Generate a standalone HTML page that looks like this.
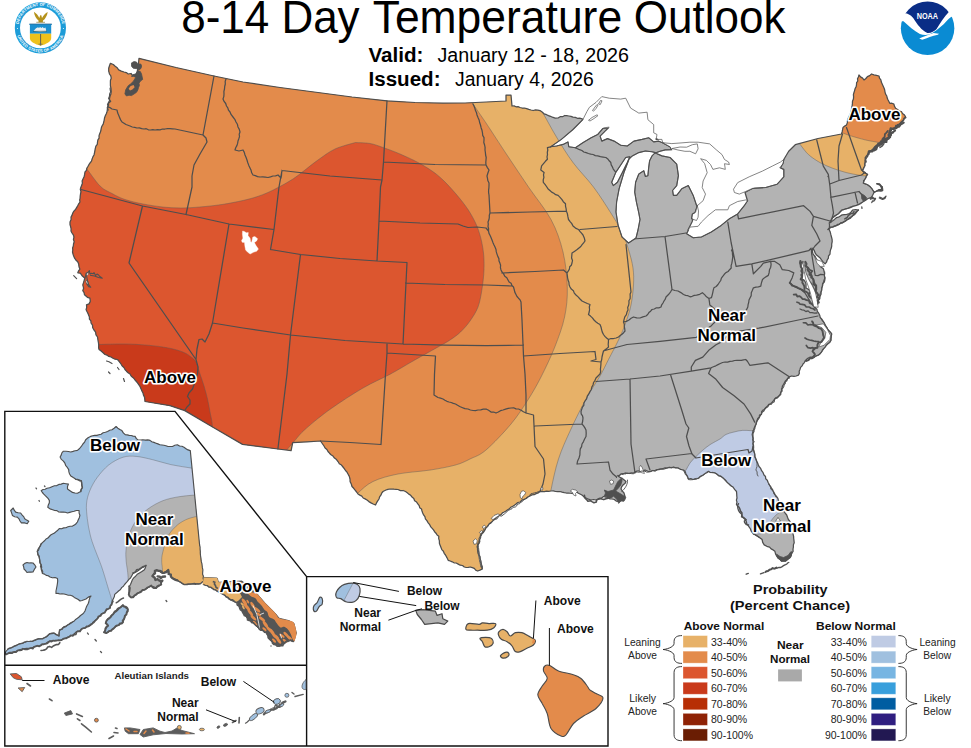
<!DOCTYPE html>
<html><head><meta charset="utf-8"><title>8-14 Day Temperature Outlook</title>
<style>
html,body{margin:0;padding:0;background:#fff;}
body{width:971px;height:748px;overflow:hidden;font-family:"Liberation Sans",sans-serif;}
svg{display:block}
text{font-family:"Liberation Sans",sans-serif;}
.lab{font-weight:bold;font-size:17px;fill:#000;stroke:#fff;stroke-width:3.2px;paint-order:stroke fill;stroke-linejoin:round;text-anchor:middle}
.slab{font-weight:bold;font-size:12px;fill:#111;}
.leg{font-size:11px;fill:#222;}
.legb{font-weight:bold;font-size:12px;fill:#111;}
</style></head><body>
<svg width="971" height="748" viewBox="0 0 971 748">
<rect width="971" height="748" fill="#fff"/>
<defs>
<clipPath id="usclip"><path d="M110.4 63.3 L113.3 64.5 L115.2 66.2 L117.2 67.8 L118.7 69.9 L121.3 71.1 L124.0 72.0 L126.3 72.6 L128.2 74.0 L131.0 73.5 L133.0 76.0 L136.0 74.5 L136.8 72.5 L137.5 70.5 L137.9 68.2 L138.5 66.0 L138.6 62.5 L139.0 58.3 L176.0 67.5 L214.0 76.0 L243.0 82.0 L280.0 87.5 L318.0 92.5 L352.0 97.0 L387.0 100.8 L415.0 102.5 L443.0 103.2 L465.0 103.0 L486.0 102.0 L506.0 101.0 L506.0 95.0 L511.0 95.0 L512.0 106.0 L514.1 105.9 L516.0 106.8 L518.1 106.7 L520.0 107.5 L522.0 108.0 L524.4 108.0 L526.6 108.6 L528.8 109.4 L531.0 110.0 L533.2 110.5 L535.5 109.9 L537.8 110.1 L540.0 110.6 L542.1 112.1 L544.1 113.8 L546.6 114.7 L548.5 115.6 L550.5 116.3 L552.4 117.2 L555.2 118.1 L558.1 118.0 L560.1 116.7 L562.6 116.7 L564.7 115.5 L566.8 115.7 L568.9 116.0 L571.0 116.4 L573.0 117.2 L575.3 117.4 L577.4 118.3 L579.8 118.1 L582.0 118.8 L600.0 128.0 L640.0 128.0 L662.7 142.7 L670.1 146.8 L671.8 149.3 L690.0 165.0 L700.0 190.0 L697.3 205.7 L692.0 222.0 L688.0 230.0 L700.0 232.0 L735.0 210.0 L747.5 200.7 L745.0 192.5 L760.0 184.0 L779.0 172.5 L783.8 159.5 L788.7 151.3 L795.3 144.7 L818.0 138.5 L841.5 134.0 L842.1 131.9 L842.6 129.7 L843.0 127.5 L844.7 126.1 L846.5 125.0 L847.3 122.9 L847.5 120.6 L848.2 118.4 L849.1 116.3 L850.3 114.3 L850.7 112.1 L851.5 110.0 L851.6 107.8 L852.2 105.6 L852.4 103.4 L852.5 101.2 L853.4 99.1 L853.6 96.9 L853.4 94.6 L854.0 92.5 L854.6 90.6 L855.1 88.6 L856.1 86.8 L856.5 84.8 L856.6 82.7 L857.8 81.0 L857.5 78.8 L858.4 76.9 L859.0 75.0 L860.5 76.9 L862.6 78.1 L864.0 80.0 L865.9 78.5 L867.4 76.6 L869.7 75.6 L871.5 74.0 L873.9 74.9 L876.5 75.4 L879.0 76.0 L879.5 78.2 L880.9 79.9 L881.3 82.1 L882.2 84.0 L883.1 86.0 L884.0 88.0 L884.7 90.0 L885.0 92.1 L885.6 94.2 L886.8 96.0 L887.2 98.1 L888.1 100.0 L889.8 103.3 L891.9 103.2 L893.9 104.1 L894.5 106.3 L895.6 108.3 L897.5 109.5 L899.2 111.0 L901.4 111.6 L902.5 113.5 L904.3 114.8 L905.5 116.6 L904.0 119.2 L902.2 121.6 L900.0 123.5 L898.0 125.7 L895.8 127.4 L893.1 128.2 L891.5 129.5 L889.8 130.7 L890.9 132.6 L891.4 134.8 L890.0 136.8 L888.4 138.5 L886.4 139.8 L883.9 140.4 L881.5 141.5 L880.6 143.4 L879.0 144.8 L877.0 146.3 L874.8 147.3 L873.2 149.0 L871.5 150.6 L869.6 152.0 L868.2 153.9 L867.8 156.1 L866.5 158.0 L865.2 160.0 L865.1 162.9 L864.8 165.8 L863.5 168.2 L862.3 170.6 L863.8 172.2 L865.6 173.4 L867.6 174.4 L866.2 176.1 L865.6 178.4 L864.3 180.2 L863.3 183.1 L865.7 184.0 L868.1 185.0 L870.2 186.8 L872.0 188.9 L873.9 191.8 L876.4 191.5 L878.7 190.3 L880.7 190.9 L882.8 190.5 L882.1 186.9 L879.7 184.1 L876.8 183.6 L880.0 185.2 L881.3 187.5 L881.6 189.5 L879.0 189.5 L876.0 191.5 L873.9 192.7 L872.5 195.5 L871.0 197.5 L868.1 198.5 L865.2 200.4 L862.3 202.3 L860.6 203.6 L858.5 204.3 L856.7 205.3 L854.7 205.8 L852.7 206.2 L850.9 207.4 L848.9 208.1 L846.6 208.7 L844.3 209.3 L842.1 210.0 L840.4 211.8 L838.7 213.7 L836.4 214.9 L834.5 216.4 L832.5 217.7 L830.5 221.0 L830.6 222.6 L832.4 220.9 L834.5 219.4 L836.4 217.7 L838.5 217.2 L840.3 216.0 L842.1 214.9 L844.4 214.6 L846.7 214.4 L848.9 213.9 L850.9 212.1 L852.7 210.0 L855.6 209.5 L858.5 210.0 L856.5 211.4 L854.9 213.2 L853.2 214.8 L851.8 216.8 L849.7 217.7 L848.0 219.3 L846.1 220.5 L844.1 221.6 L842.4 222.9 L840.2 223.4 L838.5 224.9 L836.4 225.4 L834.6 226.5 L832.6 227.0 L830.6 227.4 L828.5 229.0 L829.0 229.5 L830.2 231.9 L830.8 234.4 L831.5 237.0 L832.1 239.3 L832.2 241.7 L831.7 244.0 L831.7 246.1 L831.3 248.1 L830.5 250.0 L830.1 252.1 L830.0 254.2 L828.5 256.0 L828.4 258.1 L827.2 260.0 L826.5 262.2 L825.1 263.9 L823.3 262.1 L821.7 260.1 L820.2 258.1 L818.4 256.6 L816.6 255.1 L815.2 253.2 L814.3 250.5 L812.7 248.2 L812.5 252.0 L813.1 254.2 L814.7 255.9 L815.8 257.8 L816.9 259.8 L818.4 261.8 L819.5 264.0 L820.2 266.4 L823.4 268.8 L824.0 271.0 L824.5 273.3 L824.3 275.7 L825.1 277.9 L824.8 280.0 L824.3 282.0 L822.6 283.7 L822.4 285.8 L821.8 287.8 L821.8 289.9 L821.0 291.9 L821.1 294.0 L820.2 296.0 L819.5 298.0 L818.4 299.9 L817.9 302.0 L817.7 304.2 L816.0 303.4 L816.2 300.5 L816.0 297.7 L815.3 295.8 L814.9 293.8 L814.2 291.8 L814.4 289.7 L813.6 287.8 L812.4 285.7 L811.4 283.5 L809.7 281.7 L808.6 279.5 L807.2 277.5 L806.7 275.0 L805.3 273.0 L805.4 270.8 L804.9 268.8 L804.4 266.7 L803.7 264.7 L802.0 261.4 L801.2 263.6 L801.0 266.0 L801.4 268.1 L802.6 269.9 L803.0 272.0 L802.6 274.3 L802.5 276.7 L802.0 279.0 L804.0 280.1 L805.3 282.0 L806.0 283.9 L806.0 286.0 L806.0 288.0 L808.3 289.3 L810.3 291.0 L809.4 293.4 L809.0 296.0 L810.5 297.9 L812.7 299.0 L812.9 301.5 L813.0 304.0 L813.9 306.0 L815.2 307.8 L816.9 309.2 L817.3 311.4 L818.7 313.2 L819.7 315.2 L820.2 317.4 L821.8 319.2 L823.1 321.2 L824.4 323.2 L825.3 325.4 L826.7 327.3 L827.6 329.2 L828.9 330.8 L830.5 332.2 L831.7 333.9 L831.3 336.1 L830.8 338.3 L830.9 340.5 L829.8 342.5 L827.9 343.7 L826.2 345.2 L825.1 347.1 L823.6 348.6 L822.4 350.2 L821.4 352.1 L820.2 353.7 L818.3 355.2 L815.9 355.9 L814.1 357.5 L811.9 358.6 L808.3 357.9 L806.7 359.2 L805.3 360.6 L804.4 362.6 L803.0 364.0 L802.1 365.9 L800.6 367.4 L800.0 369.4 L799.2 371.3 L799.3 373.4 L798.4 375.2 L796.2 376.0 L793.9 376.4 L791.5 376.0 L789.3 376.8 L787.6 378.5 L786.8 380.8 L784.7 382.2 L783.6 384.3 L782.4 386.1 L782.1 388.2 L781.8 390.2 L780.9 392.1 L780.3 394.1 L778.9 396.0 L777.4 397.8 L775.0 398.7 L773.5 400.6 L772.0 402.4 L770.6 403.8 L768.8 404.9 L767.8 406.7 L766.1 407.8 L764.7 409.2 L763.7 411.1 L762.1 412.3 L761.1 414.5 L759.8 416.5 L758.7 418.6 L757.2 420.5 L756.3 422.5 L755.8 424.7 L754.8 426.7 L753.9 428.7 L754.0 431.3 L752.9 433.8 L753.0 436.5 L753.2 439.0 L753.0 441.5 L753.0 444.0 L753.2 446.5 L753.2 449.1 L754.0 451.5 L754.8 454.0 L754.9 456.6 L756.0 459.0 L756.7 460.9 L757.5 462.8 L758.2 464.6 L759.0 466.5 L760.7 468.4 L761.6 470.7 L763.1 472.7 L764.0 475.0 L765.5 476.5 L765.7 478.8 L767.3 480.2 L768.0 482.2 L769.0 484.0 L769.9 485.9 L771.1 487.6 L772.4 489.3 L773.3 491.2 L774.3 493.0 L775.2 494.9 L776.5 496.5 L777.9 498.3 L778.4 500.6 L779.7 502.5 L780.7 504.5 L781.2 506.8 L782.5 508.7 L783.5 510.7 L785.0 512.9 L786.7 515.0 L787.5 517.3 L788.4 519.5 L789.9 521.4 L790.6 523.5 L791.1 525.7 L791.8 527.8 L792.4 530.0 L793.1 532.1 L793.1 534.3 L793.6 536.4 L793.7 538.5 L794.0 540.7 L794.2 542.8 L793.4 544.9 L793.4 547.0 L793.0 549.1 L793.1 551.3 L791.6 553.3 L791.2 555.8 L789.9 557.8 L787.7 559.3 L785.6 561.0 L783.5 560.5 L781.3 561.0 L780.2 559.3 L778.2 558.4 L777.1 556.7 L775.6 554.2 L774.9 551.3 L773.1 549.9 L771.1 548.9 L769.6 547.1 L766.8 546.3 L764.2 544.9 L762.7 542.4 L762.1 539.6 L760.1 537.9 L757.8 536.4 L755.8 535.0 L753.5 534.2 L752.8 532.3 L751.1 531.0 L750.5 529.0 L749.4 527.3 L748.2 525.7 L746.8 524.0 L746.4 521.7 L745.4 519.8 L743.9 518.2 L742.3 516.5 L741.7 514.2 L739.8 512.6 L738.6 510.7 L737.9 508.6 L737.6 506.3 L736.4 504.3 L737.0 502.2 L736.4 500.1 L737.0 498.0 L736.8 495.8 L736.7 493.7 L736.5 491.5 L734.6 489.4 L733.0 487.0 L730.8 485.8 L729.0 484.0 L726.9 482.1 L725.0 480.0 L723.2 478.1 L721.0 476.5 L718.7 475.8 L717.0 474.1 L715.0 473.0 L712.8 472.6 L710.5 472.5 L708.5 471.5 L706.8 472.8 L704.8 473.7 L703.0 475.0 L700.7 476.5 L698.5 478.0 L695.9 479.2 L693.0 479.5 L690.8 478.7 L688.5 479.0 L687.5 476.4 L686.0 474.0 L685.2 471.7 L683.5 470.0 L680.6 469.4 L678.0 468.0 L675.7 467.8 L673.5 467.0 L671.4 467.8 L669.1 467.4 L667.0 468.0 L665.0 468.6 L663.1 469.1 L661.0 469.0 L659.0 469.6 L656.9 469.6 L655.0 470.5 L652.8 470.5 L650.7 471.4 L648.5 471.5 L645.0 470.0 L643.1 471.1 L641.0 471.5 L639.1 470.8 L637.0 471.0 L635.2 471.9 L633.5 473.0 L631.3 472.8 L629.2 473.5 L627.0 473.0 L625.1 473.8 L623.0 473.5 L621.0 474.0 L618.5 476.5 L620.8 477.7 L623.0 479.0 L626.0 481.5 L624.9 483.6 L623.0 485.0 L621.6 486.8 L621.0 489.0 L622.4 491.1 L624.0 493.0 L625.0 496.5 L623.2 498.0 L622.0 500.0 L618.5 501.5 L616.2 501.1 L614.3 499.5 L612.0 499.0 L609.7 498.8 L607.9 497.4 L605.6 497.2 L603.5 496.5 L601.9 497.9 L600.0 499.0 L598.0 499.4 L596.0 500.0 L593.5 499.5 L591.0 500.0 L588.4 499.2 L586.0 498.0 L584.1 497.2 L582.7 495.6 L581.0 494.5 L578.4 493.2 L576.0 491.5 L574.2 492.9 L572.0 493.5 L568.5 493.0 L566.3 493.0 L564.2 492.7 L562.1 492.2 L560.0 491.5 L557.7 491.6 L555.5 491.5 L553.3 490.8 L551.0 491.0 L548.8 491.3 L546.6 491.2 L544.4 491.7 L542.2 491.6 L540.0 491.5 L538.2 492.9 L536.1 493.6 L534.2 494.7 L531.9 494.9 L530.0 496.0 L528.0 497.0 L526.2 498.5 L524.0 499.4 L521.8 500.1 L520.2 502.0 L517.8 502.5 L516.0 504.0 L514.4 505.2 L512.7 506.3 L510.8 507.2 L509.4 508.8 L507.7 509.8 L506.0 511.0 L504.2 512.0 L502.4 512.9 L501.1 514.6 L499.1 515.4 L497.5 516.6 L496.0 518.0 L494.2 519.4 L492.6 521.1 L490.9 522.6 L489.0 524.0 L487.7 526.4 L485.7 528.2 L484.7 530.4 L483.4 532.5 L481.4 534.1 L480.3 536.2 L480.0 538.4 L479.6 540.6 L479.1 542.7 L477.8 544.7 L477.6 546.9 L477.5 549.3 L478.0 551.7 L478.5 554.0 L479.3 556.0 L480.0 558.1 L480.3 560.3 L481.0 562.4 L481.3 564.6 L482.2 566.7 L482.3 569.0 L480.0 570.1 L477.6 571.0 L475.7 570.1 L474.3 568.4 L472.3 567.7 L470.3 567.0 L468.3 567.3 L466.3 567.5 L464.3 567.0 L462.5 565.5 L460.2 565.2 L458.2 564.1 L456.2 563.0 L454.0 562.8 L452.2 561.8 L450.2 561.0 L448.2 560.3 L446.9 557.6 L445.5 555.0 L444.2 553.3 L443.4 551.2 L441.8 549.6 L441.0 547.6 L440.2 545.6 L439.4 543.3 L439.4 540.9 L438.7 538.6 L438.8 536.2 L437.1 535.0 L436.0 533.2 L434.6 531.7 L433.5 529.9 L432.2 528.4 L430.8 526.9 L429.7 524.7 L428.2 522.8 L426.9 520.7 L425.4 518.8 L424.9 516.7 L423.6 514.9 L422.7 513.0 L422.0 511.0 L421.5 509.0 L419.7 507.7 L419.2 505.6 L418.0 504.0 L416.6 502.1 L414.6 500.8 L413.8 498.5 L412.0 497.0 L410.7 495.3 L408.8 494.1 L407.3 492.7 L405.5 491.5 L403.1 490.5 L400.4 490.6 L398.0 489.5 L396.0 489.3 L394.0 489.2 L392.0 489.0 L389.9 489.0 L387.9 489.3 L386.0 490.0 L383.0 491.5 L381.7 493.2 L380.9 495.2 L379.6 496.9 L379.0 499.0 L377.7 500.9 L376.5 502.9 L375.5 505.0 L373.2 504.0 L371.0 502.9 L368.9 501.6 L367.0 500.0 L365.1 498.9 L363.2 498.0 L361.8 496.1 L359.8 495.1 L358.0 494.0 L356.6 492.0 L355.1 490.2 L353.7 488.3 L352.0 486.5 L351.3 484.0 L350.1 481.6 L350.0 479.0 L349.3 476.4 L348.0 474.0 L347.0 472.1 L345.5 470.5 L344.3 468.7 L343.0 467.0 L341.5 465.0 L339.3 463.7 L338.0 461.5 L336.5 459.5 L334.5 458.0 L333.0 456.0 L331.0 454.8 L329.5 453.2 L328.0 451.5 L326.9 449.5 L325.1 448.0 L324.0 446.0 L320.5 441.0 L307.0 441.8 L292.7 442.7 L291.1 450.6 L277.9 449.0 L260.0 446.7 L242.5 444.4 L213.0 427.2 L184.8 410.6 L170.0 405.7 L145.0 401.5 L144.8 399.3 L144.5 397.1 L143.5 395.1 L143.0 393.0 L141.9 390.9 L141.0 388.7 L140.0 386.5 L138.9 384.8 L137.7 383.1 L136.4 381.5 L135.0 380.0 L133.5 377.9 L131.3 376.3 L130.0 374.0 L128.1 372.8 L126.5 371.2 L125.0 369.5 L123.9 367.5 L122.2 366.0 L121.0 364.0 L119.3 361.7 L117.5 359.5 L115.1 359.2 L113.0 358.3 L111.0 357.0 L108.9 356.4 L107.1 355.2 L105.0 354.5 L103.1 352.7 L101.1 351.0 L99.0 349.5 L98.6 347.4 L98.7 345.2 L98.5 343.0 L98.1 341.0 L97.8 339.0 L97.5 337.0 L96.0 334.9 L95.6 332.1 L94.0 330.0 L92.7 327.8 L92.5 325.1 L91.0 323.0 L90.9 320.9 L89.4 319.1 L89.4 317.0 L88.2 313.9 L87.1 311.8 L86.1 309.7 L86.7 307.3 L86.5 304.8 L89.0 303.9 L90.3 301.4 L89.9 298.1 L87.4 297.3 L84.5 294.8 L84.1 292.6 L82.8 290.7 L83.6 288.2 L82.8 284.9 L83.6 282.4 L84.2 280.3 L84.9 278.2 L82.4 276.1 L80.3 273.2 L77.8 272.8 L78.6 270.8 L79.9 269.1 L79.0 266.7 L78.7 264.1 L77.7 261.8 L75.8 260.0 L74.3 257.6 L73.3 255.0 L72.5 252.0 L72.8 250.0 L72.6 248.0 L73.3 246.0 L73.5 244.0 L74.2 241.7 L73.4 239.3 L74.0 237.0 L73.3 234.8 L72.0 233.0 L71.0 231.0 L71.1 228.8 L70.6 226.6 L70.0 224.5 L70.0 222.0 L71.1 219.6 L71.0 217.0 L72.1 215.1 L72.8 213.0 L73.9 211.1 L75.5 209.5 L76.6 207.6 L77.7 205.7 L78.7 203.8 L80.0 202.0 L79.7 200.0 L80.1 198.0 L80.2 196.0 L80.5 194.0 L81.0 191.7 L80.3 189.3 L81.0 187.0 L81.8 185.1 L82.4 183.1 L82.1 180.9 L83.0 179.0 L84.1 176.8 L84.6 174.4 L85.0 172.0 L86.4 170.4 L86.8 168.3 L87.9 166.5 L88.9 164.7 L90.0 163.0 L91.5 161.2 L92.1 159.0 L92.9 156.9 L94.0 155.0 L94.5 152.8 L94.9 150.6 L95.3 148.4 L95.9 146.2 L97.3 144.3 L97.5 142.0 L97.9 139.9 L99.1 138.1 L99.0 135.9 L99.6 133.9 L100.4 132.0 L101.0 130.0 L101.3 127.9 L102.0 126.0 L103.2 124.1 L103.7 122.1 L104.2 120.1 L104.5 118.0 L105.3 115.8 L106.3 113.7 L107.1 111.5 L107.4 109.2 L108.0 107.0 L108.6 104.9 L108.3 102.7 L109.5 100.7 L109.5 98.5 L110.0 96.4 L110.9 94.0 L111.2 91.5 L111.0 88.6 L110.4 85.7 L110.4 83.2 L110.4 80.6 L111.2 78.2 L110.8 75.9 L109.5 74.0 L108.7 71.2 L108.7 68.2 L109.5 65.7Z"/></clipPath>
</defs>
<g clip-path="url(#usclip)">
<rect x="60" y="40" width="880" height="560" fill="#B3B3B3"/>
<path d="M533 96 C534.8 99.0 539.6 107.2 543.5 114.0 C547.4 120.8 551.6 128.9 556.5 137.0 C561.4 145.1 566.8 154.2 573.0 162.5 C579.2 170.8 587.2 178.6 593.5 187.0 C599.8 195.4 606.0 205.4 610.8 212.9 C615.5 220.4 619.0 225.9 622.0 232.0 C625.0 238.1 626.7 243.5 628.5 249.5 C630.3 255.5 632.2 262.1 633.0 268.0 C633.8 273.9 633.8 278.8 633.5 285.0 C633.2 291.2 632.2 298.8 631.0 305.0 C629.8 311.2 628.0 316.3 626.0 322.0 C624.0 327.7 621.9 332.8 619.0 339.0 C616.1 345.2 611.7 353.3 608.5 359.5 C605.3 365.7 603.8 369.4 600.0 376.0 C596.2 382.6 590.8 390.2 586.0 399.0 C581.2 407.8 575.6 419.0 571.0 429.0 C566.4 439.0 561.8 448.8 558.5 459.0 C555.2 469.2 552.8 481.2 551.0 490.0 C549.2 498.8 548.5 508.3 548.0 512.0 L548 620 L40 620 L40 40 L533 40 Z" fill="#E7B168" stroke="rgba(90,90,90,0.55)" stroke-width="0.8"/>
<path d="M468 96 C468.8 97.3 470.0 99.5 473.0 104.0 C476.0 108.5 480.3 114.5 486.0 123.0 C491.7 131.5 499.9 144.3 507.0 155.0 C514.1 165.7 521.2 176.2 528.5 187.0 C535.8 197.8 545.2 208.7 551.0 219.5 C556.8 230.3 560.3 240.8 563.0 252.0 C565.7 263.2 567.0 276.2 567.3 287.0 C567.6 297.8 566.7 307.0 564.6 317.0 C562.5 327.0 558.6 337.2 554.8 347.0 C550.9 356.8 545.9 367.3 541.5 376.0 C537.1 384.7 533.6 391.0 528.5 399.0 C523.4 407.0 518.1 415.5 511.0 424.0 C503.9 432.5 492.8 444.2 486.0 450.0 C479.2 455.8 475.1 456.5 470.0 459.0 C464.9 461.5 462.1 463.2 455.5 465.0 C448.9 466.8 440.1 468.5 430.5 470.0 C420.9 471.5 407.6 472.1 398.0 474.0 C388.4 475.9 379.7 478.3 373.0 481.5 C366.3 484.7 361.8 489.6 358.0 493.0 C354.2 496.4 351.3 500.5 350.0 502.0 L300 620 L40 620 L40 40 L468 40 Z" fill="#E38B4B" stroke="rgba(90,90,90,0.55)" stroke-width="0.8"/>
<path d="M355.5 142.5 C357.9 142.7 365.4 142.7 370.0 143.5 C374.6 144.3 378.0 145.8 383.0 147.5 C388.0 149.2 394.2 151.5 400.0 154.0 C405.8 156.5 412.7 159.7 418.0 162.5 C423.3 165.3 427.8 168.1 432.0 171.0 C436.2 173.9 439.0 176.2 443.0 180.0 C447.0 183.8 451.8 189.1 456.0 194.0 C460.2 198.9 464.7 204.5 468.0 209.5 C471.3 214.5 473.9 219.4 476.0 224.0 C478.1 228.6 479.2 232.2 480.5 237.0 C481.8 241.8 482.9 247.6 483.5 253.0 C484.1 258.4 484.2 263.5 484.0 269.5 C483.8 275.5 483.0 282.8 482.0 289.0 C481.0 295.2 480.0 301.7 478.0 307.0 C476.0 312.3 472.9 316.8 470.0 321.0 C467.1 325.2 463.8 328.8 460.5 332.0 C457.2 335.2 453.8 337.5 450.0 340.0 C446.2 342.5 444.2 343.5 438.0 347.0 C431.8 350.5 420.9 356.5 413.0 361.0 C405.1 365.5 398.8 369.5 390.5 374.0 C382.2 378.5 373.0 382.2 363.0 388.0 C353.0 393.8 340.1 402.2 330.5 409.0 C320.9 415.8 311.6 423.6 305.5 429.0 C299.4 434.4 298.2 436.7 294.0 441.5 C289.8 446.3 282.3 455.2 280.0 458.0 L60 480 L40 480 L40 150 L60 155 C62.5 156.0 70.8 159.0 75.0 161.0 C79.2 163.0 80.8 162.8 85.0 167.0 C89.2 171.2 95.5 181.6 100.0 186.0 C104.5 190.4 107.8 191.2 112.0 193.5 C116.2 195.8 119.8 197.8 125.0 199.5 C130.2 201.2 136.8 202.8 143.0 204.0 C149.2 205.2 156.2 206.3 162.5 207.0 C168.8 207.7 174.8 208.0 181.0 208.0 C187.2 208.0 193.2 207.6 200.0 207.0 C206.8 206.4 214.8 205.6 222.0 204.5 C229.2 203.4 237.3 201.8 243.0 200.5 C248.7 199.2 251.8 198.3 256.0 197.0 C260.2 195.7 264.2 194.2 268.0 192.5 C271.8 190.8 274.8 189.2 279.0 187.0 C283.2 184.8 288.7 181.8 293.0 179.0 C297.3 176.2 300.8 173.2 305.0 170.0 C309.2 166.8 313.0 163.5 318.0 160.0 C323.0 156.5 328.8 151.9 335.0 149.0 C341.2 146.1 352.1 143.6 355.5 142.5Z" fill="#DC562F" stroke="rgba(90,90,90,0.55)" stroke-width="0.8"/>
<path d="M80 345 C83.2 344.9 91.5 344.7 99.0 344.5 C106.5 344.3 117.3 343.9 125.0 344.0 C132.7 344.1 138.8 344.5 145.0 345.0 C151.2 345.5 157.5 346.2 162.5 347.0 C167.5 347.8 171.2 348.5 175.0 349.5 C178.8 350.5 182.3 351.8 185.0 353.0 C187.7 354.2 189.2 355.5 191.0 357.0 C192.8 358.5 194.5 359.2 196.0 362.0 C197.5 364.8 198.7 370.0 200.0 374.0 C201.3 378.0 202.8 381.8 204.0 386.0 C205.2 390.2 206.5 394.7 207.5 399.0 C208.5 403.3 209.2 407.4 210.0 412.0 C210.8 416.6 212.0 420.2 212.5 426.5 C213.0 432.8 212.9 446.1 213.0 450.0 L80 450 Z" fill="#C93A1B" stroke="rgba(90,90,90,0.55)" stroke-width="0.8"/>
<path d="M795 138 C795.9 139.1 798.0 141.9 800.3 144.7 C802.5 147.5 805.2 151.6 808.5 154.6 C811.8 157.6 816.0 160.3 820.0 162.6 C824.0 164.9 828.2 166.5 832.5 168.2 C836.8 169.8 841.8 171.4 846.0 172.5 C850.2 173.6 854.3 174.3 857.5 174.9 C860.7 175.5 860.6 175.6 865.2 175.9 C869.8 176.2 881.7 176.8 885.0 177.0 L930 174 L930 50 L790 50 Z" fill="#E7B168" stroke="rgba(90,90,90,0.55)" stroke-width="0.8"/>
<path d="M834 130 C835.5 130.5 840.4 132.2 843.3 133.2 C846.2 134.2 848.0 135.0 851.6 136.1 C855.2 137.2 860.9 138.8 864.9 139.8 C868.9 140.8 871.5 141.2 875.7 141.9 C879.9 142.7 886.0 143.7 890.0 144.3 C894.0 144.9 898.3 145.3 900.0 145.5 L930 147 L930 50 L830 50 Z" fill="#E38B4B" stroke="rgba(90,90,90,0.55)" stroke-width="0.8"/>
<path d="M680 478 C681.0 476.7 684.3 472.5 686.0 470.0 C687.7 467.5 688.3 465.2 690.0 463.0 C691.7 460.8 693.8 458.7 696.0 456.5 C698.2 454.3 700.5 452.1 703.0 450.0 C705.5 447.9 708.2 445.8 711.0 444.0 C713.8 442.2 717.5 440.6 720.0 439.0 C722.5 437.4 723.6 435.7 725.9 434.5 C728.2 433.3 731.2 432.7 734.0 432.0 C736.8 431.3 739.5 430.6 742.4 430.4 C745.3 430.2 748.5 430.5 751.4 430.7 C754.3 430.9 758.6 431.4 760.0 431.5 L810 440 L810 511 L800 511 C798.3 509.6 792.8 509.8 790.0 510.0 C787.2 510.2 785.8 509.9 783.5 510.7 C781.2 511.5 778.1 513.2 776.0 515.0 C773.9 516.8 772.3 519.2 770.6 521.4 C768.9 523.6 767.4 526.0 766.0 528.0 C764.6 530.0 764.2 532.1 762.1 533.2 C760.0 534.3 756.4 533.9 753.5 534.4 C750.6 534.9 746.4 535.7 745.0 536.0 L680 550 Z" fill="#BFCBE4" stroke="rgba(90,90,90,0.55)" stroke-width="0.8"/>
</g>
<path d="M108.0 107.0 L110.2 107.7 L112.0 109.0 L114.5 109.5 L117.0 110.0 L117.7 113.1 L119.0 116.0 L119.8 118.1 L120.8 120.1 L122.0 122.0 L124.0 123.2 L126.0 124.5 L130.0 126.0 L132.3 127.0 L134.7 127.4 L137.0 128.0 L139.4 127.9 L141.7 128.6 L144.0 129.0 L146.2 128.7 L148.4 129.8 L150.6 130.0 L152.8 129.6 L155.0 130.0 L157.5 129.6 L160.0 129.8 L162.5 129.0 L165.0 129.0 L167.5 128.7 L170.0 128.7 L172.5 128.8 L175.0 129.0 L189.0 132.0 L203.0 135.0 M214.0 76.0 L203.0 135.0 M203.0 135.0 L206.0 138.0 L207.0 142.0 L200.0 154.0 L194.0 165.0 L192.0 176.0 L192.0 187.0 L186.0 214.5 M226.0 79.0 L225.2 81.4 L225.3 84.0 L224.7 86.5 L224.5 89.0 L223.9 91.5 L224.0 94.0 L223.8 96.6 L223.0 99.0 L224.1 101.4 L225.7 103.5 L226.5 106.0 L227.8 107.9 L228.5 110.2 L230.0 112.0 L231.2 114.7 L233.0 117.0 L234.8 119.3 L236.0 122.0 L237.4 124.3 L238.0 127.0 L239.3 129.4 L240.0 132.0 L239.2 134.2 L239.5 136.6 L238.8 138.8 L238.0 141.0 L237.6 143.4 L236.9 145.6 L235.7 147.7 L235.0 150.0 L239.0 151.0 L243.0 150.0 L244.3 152.4 L245.0 155.0 L246.1 157.5 L247.0 160.0 L247.8 162.7 L248.8 165.4 L250.0 168.0 L251.1 170.3 L251.7 172.8 L253.0 175.0 L255.3 175.7 L257.6 176.6 L260.0 177.0 L262.7 176.9 L265.3 177.2 L268.0 177.5 L270.5 176.8 L273.0 176.0 L275.6 175.9 L278.0 175.0 L281.0 178.0 L281.5 175.5 L281.6 173.0 L282.0 170.5 M81.0 189.5 L142.5 206.0 L186.0 214.5 L229.0 224.0 L274.0 229.5 M282.0 170.5 L279.0 187.0 L274.0 229.5 L270.5 249.5 M142.5 206.0 L129.0 263.0 L196.0 359.5 M229.0 224.0 L212.5 323.0 L209.0 334.0 L205.0 342.0 L202.0 339.0 L199.0 339.5 L197.0 349.0 L196.0 359.5 L198.0 367.0 L197.5 374.0 L195.0 382.0 L192.5 389.0 L189.0 393.0 L187.5 396.5 L190.0 400.0 L190.0 404.0 L187.0 407.0 L185.0 410.0 M212.5 323.0 L243.0 328.0 L290.5 335.0 L345.0 340.5 L403.0 344.0 L445.0 345.2 L486.0 345.7 L523.5 345.0 M270.5 249.5 L300.5 254.5 L340.0 258.5 L377.0 261.0 L407.0 262.5 M300.5 254.5 L290.5 335.0 M407.0 262.5 L403.0 344.0 M282.0 170.5 L330.0 176.0 L382.0 180.0 M387.0 100.8 L383.5 162.0 L382.0 180.0 L380.5 187.0 L379.0 221.0 L377.0 261.0 M383.5 162.0 L435.0 164.5 L486.0 165.0 M379.0 221.0 L420.0 223.0 L458.0 224.0 L463.0 226.0 L468.0 227.5 L477.0 227.0 L486.0 228.0 L488.5 231.0 M405.5 283.0 L445.0 284.5 L486.0 285.0 L512.0 286.0 M473.0 104.0 L474.0 106.1 L474.9 108.3 L475.5 110.6 L476.5 112.7 L477.0 115.0 L478.0 117.5 L479.1 119.9 L479.6 122.5 L480.5 125.0 L481.1 127.7 L482.0 130.3 L482.5 133.0 L482.7 135.4 L484.0 137.6 L484.0 140.0 L483.8 142.5 L484.6 145.0 L485.1 147.5 L485.0 150.0 L485.4 152.5 L485.6 155.0 L486.2 157.5 L486.0 160.0 L485.8 162.5 L486.0 165.0 L487.4 167.6 L489.0 170.0 L487.9 173.0 L487.0 176.0 L487.5 178.4 L487.9 180.8 L489.0 183.0 L489.0 185.4 L488.9 187.8 L488.6 190.2 L488.6 192.6 L489.0 195.0 L490.0 213.0 M490.0 213.0 L489.3 215.2 L489.3 217.6 L488.9 219.8 L488.0 222.0 L488.3 224.2 L488.0 226.5 L488.6 228.7 L488.5 231.0 L489.0 233.4 L490.1 235.5 L491.1 237.8 L492.0 240.0 L492.9 242.4 L493.9 244.8 L495.0 247.1 L496.0 249.5 L496.3 251.9 L497.0 254.1 L497.8 256.4 L498.9 258.6 L499.0 261.0 L499.9 263.1 L500.6 265.3 L500.4 267.7 L501.0 269.9 L502.0 272.0 L503.6 273.9 L504.8 276.2 L506.8 277.7 L508.0 280.0 L509.1 282.0 L511.1 283.2 L511.9 285.4 L513.5 287.0 L514.2 289.5 L514.8 292.1 L516.0 294.5 L517.0 296.5 L518.5 298.2 L520.1 299.9 L521.0 302.0 L522.0 320.0 L523.5 356.0 L525.0 374.0 L526.0 395.0 L526.0 413.0 M490.0 213.0 L530.0 212.0 L566.4 211.1 M502.0 273.0 L535.0 271.5 L563.5 270.0 L567.0 273.0 M550.7 146.8 L547.4 147.7 L547.8 150.0 L547.3 152.3 L547.5 154.6 L547.0 156.9 L547.4 159.2 L545.4 161.3 L543.5 163.6 L541.6 165.8 L540.8 169.9 L544.1 172.4 L543.5 174.8 L543.9 177.4 L543.2 179.8 L543.3 182.3 L545.0 184.3 L546.5 186.5 L547.9 188.7 L549.9 190.5 L551.7 192.1 L553.8 193.2 L555.7 194.7 L558.1 195.4 L559.8 197.1 L561.8 199.3 L563.3 201.7 L565.5 203.7 L565.5 206.2 L566.1 208.6 L566.4 211.1 L567.4 213.8 L567.9 216.7 L568.5 219.5 L570.1 221.6 L571.8 223.6 L573.0 226.0 L575.5 228.1 L578.5 229.5 L579.9 231.4 L581.5 233.2 L583.0 235.0 L584.3 237.9 L585.0 241.0 L583.6 242.9 L582.1 244.6 L580.8 246.5 L579.0 248.0 L576.8 249.8 L574.4 251.4 L572.0 253.0 L571.8 255.5 L571.6 258.0 L572.5 260.5 L572.0 263.0 L571.3 265.2 L569.7 266.8 L569.4 269.2 L568.2 271.1 L567.0 273.0 L567.3 275.3 L567.6 277.7 L568.0 280.0 L568.9 282.3 L569.1 284.7 L570.0 287.0 L571.3 289.1 L573.4 290.7 L574.3 293.1 L576.0 295.0 L578.1 296.9 L580.0 299.0 L582.0 301.0 L584.6 302.2 L587.3 303.5 L590.0 304.5 L589.3 307.0 L589.6 309.5 L589.2 312.0 L588.5 314.5 L590.5 316.1 L592.4 317.9 L594.0 320.0 L595.8 321.7 L597.8 323.3 L600.0 324.5 L601.0 327.0 L601.6 329.6 L602.3 332.1 L603.5 334.5 L604.9 336.4 L606.6 338.0 L608.5 339.5 L608.4 342.0 L608.2 344.5 L608.5 347.0 L606.1 349.1 L603.5 351.0 L602.7 354.0 L602.0 357.0 L601.7 359.5 L601.0 362.0 L600.9 364.4 L600.7 366.8 L600.4 369.2 L600.7 371.6 L600.0 374.0 L598.0 376.0 L596.0 378.0 L595.0 380.3 L593.6 382.5 L593.0 385.0 L591.8 387.1 L591.3 389.5 L590.0 391.5 L588.8 393.9 L587.3 396.1 L586.6 398.8 L585.0 401.0 L583.9 403.0 L583.8 405.4 L582.4 407.2 L581.7 409.4 L581.0 411.5 L581.2 413.8 L582.5 415.8 L583.0 418.0 L582.7 421.0 L582.0 424.0 L583.6 425.8 L584.9 427.9 L586.0 430.0 L586.2 433.2 L586.0 436.5 L584.6 439.0 L583.5 441.6 L582.0 444.0 L581.6 446.6 L580.3 448.9 L580.0 451.5 L579.9 454.8 L579.0 458.0 L577.6 460.9 L577.0 464.0 M575.4 147.7 L577.5 148.7 L579.6 149.7 L581.9 150.5 L583.8 152.0 L586.1 152.6 L588.4 153.5 L590.7 154.2 L593.1 154.5 L595.3 155.6 L597.7 155.9 L600.4 156.7 L603.1 157.1 L605.9 157.5 L607.8 158.9 L609.2 160.8 L610.8 162.5 L611.2 164.9 L612.4 166.9 L613.3 169.1 L615.8 172.4 M580.0 229.5 L617.0 226.5 M626.0 244.5 L628.5 268.0 L631.0 292.0 L630.1 294.1 L630.2 296.4 L630.1 298.7 L628.9 300.7 L629.0 303.0 L628.6 305.3 L627.7 307.4 L628.0 309.9 L627.0 312.0 L626.4 314.6 L624.8 316.8 L624.1 319.4 L623.5 322.0 L624.3 324.2 L624.3 326.5 L624.7 328.7 L625.0 331.0 L623.6 332.7 L622.0 334.3 L620.2 335.6 L618.5 337.0 L616.1 338.0 L613.6 338.5 L610.9 338.5 L608.5 339.5 M623.5 322.0 L626.4 321.4 L629.0 320.0 L631.1 318.3 L633.5 317.0 L636.7 317.8 L640.0 318.0 L642.9 316.8 L646.0 316.0 L647.7 314.5 L648.9 312.6 L650.6 311.2 L652.0 309.5 L654.3 309.0 L656.4 307.8 L658.8 307.8 L661.0 307.0 L661.7 304.8 L663.0 303.0 L664.0 301.0 L665.3 299.1 L666.0 297.0 L669.0 294.0 L670.6 291.8 L672.0 289.5 L674.9 290.5 L678.0 291.0 L680.9 292.6 L683.5 294.5 L685.7 295.3 L687.9 295.7 L690.0 296.8 L692.2 296.3 L694.3 295.4 L696.6 295.2 L699.7 294.3 L702.4 292.7 L704.6 294.6 L706.5 296.8 L708.9 298.5 L711.4 297.7 L712.1 295.3 L712.7 292.8 L713.2 290.3 L713.9 287.8 L716.2 286.5 L718.0 284.5 L719.3 282.5 L720.7 280.5 L721.4 278.1 L722.9 276.2 L724.3 274.3 L725.9 272.6 L728.1 271.5 L729.6 269.7 L731.2 268.0 L731.1 265.6 L731.8 263.4 L732.2 261.1 L732.5 258.8 L732.8 256.5 L732.5 254.3 L732.4 252.1 L731.5 250.0 M627.0 239.5 L665.0 236.5 L686.0 233.0 M665.0 236.5 L672.0 289.5 M603.5 351.0 L608.5 349.5 L627.0 344.5 L660.0 341.4 L696.2 337.3 L730.0 332.5 L758.8 328.2 L798.4 320.0 L818.0 316.0 M523.5 356.0 L560.0 353.5 L595.0 351.5 L596.0 359.5 L591.0 361.0 L601.0 362.0 M535.0 426.0 L582.0 424.0 M526.0 413.0 L533.5 415.0 L535.0 446.5 L543.5 459.0 L545.0 474.0 L543.0 484.0 L540.0 491.5 M387.0 344.0 L387.0 353.0 L385.5 374.0 L381.0 444.5 L350.0 442.5 L320.5 441.0 M387.0 353.0 L435.5 356.0 L434.5 374.0 L434.0 395.0 L436.0 396.2 L438.0 397.5 L440.5 398.2 L443.0 399.0 L444.9 400.2 L446.9 401.3 L449.0 402.0 L451.2 402.5 L453.3 403.4 L455.5 404.0 L457.6 405.3 L459.7 406.5 L462.0 407.5 L464.9 408.7 L468.0 409.0 L470.4 410.0 L473.0 410.5 L475.5 410.6 L478.0 410.0 L480.7 409.8 L483.3 409.1 L486.0 409.0 L488.6 410.3 L491.0 412.0 L493.6 412.0 L496.0 413.0 L498.3 412.0 L500.5 410.7 L503.0 410.0 L505.6 409.1 L508.2 408.3 L511.0 408.0 L513.6 407.8 L516.0 408.9 L518.5 409.0 L521.1 410.2 L523.4 411.8 L526.0 413.0 M290.5 335.0 L287.0 374.0 L277.9 449.0 M577.0 464.0 L608.5 462.0 L610.0 470.0 L613.0 474.0 L616.0 476.5 M596.0 381.5 L630.0 379.0 L660.0 376.0 L691.3 371.1 L711.1 367.8 M630.0 379.0 L631.0 444.0 L635.0 473.0 M670.7 375.2 L681.4 409.0 L686.0 424.0 L688.8 428.0 L686.5 436.5 L689.0 446.0 L692.0 454.0 M650.0 470.0 L646.0 459.0 L692.0 453.5 M692.0 454.0 L696.0 458.0 L720.0 454.0 L748.0 449.5 L749.0 453.0 L752.0 451.0 L753.0 446.5 M691.3 371.1 L691.3 367.0 L695.4 360.4 L702.8 357.1 L709.4 349.7 L716.0 344.7 L722.6 341.4 L727.0 336.0 L730.0 332.5 M711.1 367.8 L713.4 366.8 L715.8 365.8 L718.0 364.6 L720.3 363.5 L722.6 362.5 L725.1 362.0 L727.6 362.2 L730.0 361.3 L732.5 361.2 L734.6 360.5 L736.9 360.3 L739.1 360.4 L741.3 360.4 L743.5 359.8 L745.7 359.5 L747.4 361.2 L748.6 363.2 L749.8 365.3 L767.9 362.8 L789.3 376.8 M711.1 367.8 L708.6 373.5 L716.0 379.3 L722.6 387.5 L734.1 395.8 L744.0 404.0 L750.6 413.9 L754.7 422.1 M708.9 298.5 L709.4 301.7 L709.8 305.0 L712.3 307.1 L714.7 309.2 L715.8 311.4 L717.4 313.2 L719.0 315.0 L717.2 317.3 L716.0 320.0 L714.8 322.2 L713.0 323.9 L711.4 325.7 L709.5 327.0 L707.7 328.4 L706.1 330.0 L704.0 331.0 L702.2 332.6 L700.3 334.1 L698.2 335.3 L696.6 337.2 M716.0 320.0 L719.1 319.4 L722.0 318.0 L723.9 319.3 L725.8 320.4 L728.0 321.0 L730.0 318.9 L732.4 317.3 L735.0 316.0 L737.5 316.3 L740.0 317.0 L741.9 315.2 L743.5 313.2 L745.4 311.4 L746.8 309.2 L747.8 307.1 L748.1 304.7 L748.7 302.5 L749.0 300.1 L750.0 298.0 L751.2 295.6 L751.3 292.8 L752.4 290.3 L753.4 287.8 L755.9 287.2 L758.4 286.8 L760.8 286.1 L761.2 283.8 L761.8 281.7 L762.5 279.5 L764.3 277.9 L766.3 276.6 L768.3 275.4 L769.1 272.7 L769.5 269.8 L770.7 267.2 L771.1 264.3 L770.7 261.4 M727.8 222.1 L731.2 243.0 L736.1 266.4 L751.8 263.9 L808.6 250.7 L811.1 248.2 M751.8 263.9 L753.4 273.8 L760.8 266.4 L763.3 263.1 L770.7 261.4 L774.8 261.4 L779.8 264.7 L782.3 269.7 L788.8 270.5 L793.8 272.9 L792.1 277.9 L789.7 282.8 L795.0 287.0 L801.0 289.5 L805.0 293.0 L808.0 298.0 L811.0 303.0 L815.0 308.0 M811.1 248.2 L811.5 250.8 L811.6 253.4 L812.0 256.0 L815.2 275.4 L818.0 275.6 L820.6 274.4 L823.4 274.6 M737.7 214.7 L738.5 218.8 L803.6 205.7 L810.1 211.4 L813.4 216.4 M813.4 216.4 L811.8 225.4 L816.7 233.7 L820.0 241.0 L815.0 246.0 L811.5 251.0 M813.4 216.4 L830.0 221.0 M816.7 139.8 L820.0 153.0 L823.3 166.1 L828.3 174.4 L829.9 185.9 L831.0 198.0 L832.4 205.7 L833.5 213.0 L832.5 217.0 M829.9 184.0 L839.0 180.5 L861.5 175.0 L865.0 172.5 M830.7 197.4 L859.0 191.5 L862.0 195.0 L864.0 199.5 M855.0 192.3 L857.5 203.0 M842.5 134.0 L839.0 146.0 L838.0 161.0 L839.0 180.5 M846.5 127.5 L854.0 149.0 L861.5 170.0 L865.0 172.5" fill="none" stroke="#4e4e4e" stroke-width="1.25" stroke-linejoin="round" stroke-linecap="round"/>
<path d="M110.4 63.3 L113.3 64.5 L115.2 66.2 L117.2 67.8 L118.7 69.9 L121.3 71.1 L124.0 72.0 L126.3 72.6 L128.2 74.0 L131.0 73.5 L133.0 76.0 L136.0 74.5 L136.8 72.5 L137.5 70.5 L137.9 68.2 L138.5 66.0 L138.6 62.5 L139.0 58.3 L176.0 67.5 L214.0 76.0 L243.0 82.0 L280.0 87.5 L318.0 92.5 L352.0 97.0 L387.0 100.8 L415.0 102.5 L443.0 103.2 L465.0 103.0 L486.0 102.0 L506.0 101.0 L506.0 95.0 L511.0 95.0 L512.0 106.0 L514.1 105.9 L516.0 106.8 L518.1 106.7 L520.0 107.5 L522.0 108.0 L524.4 108.0 L526.6 108.6 L528.8 109.4 L531.0 110.0 L533.2 110.5 L535.5 109.9 L537.8 110.1 L540.0 110.6 L542.1 112.1 L544.1 113.8 L546.6 114.7 L548.5 115.6 L550.5 116.3 L552.4 117.2 L555.2 118.1 L558.1 118.0 L560.1 116.7 L562.6 116.7 L564.7 115.5 L566.8 115.7 L568.9 116.0 L571.0 116.4 L573.0 117.2 L575.3 117.4 L577.4 118.3 L579.8 118.1 L582.0 118.8 L600.0 128.0 L640.0 128.0 L662.7 142.7 L670.1 146.8 L671.8 149.3 L690.0 165.0 L700.0 190.0 L697.3 205.7 L692.0 222.0 L688.0 230.0 L700.0 232.0 L735.0 210.0 L747.5 200.7 L745.0 192.5 L760.0 184.0 L779.0 172.5 L783.8 159.5 L788.7 151.3 L795.3 144.7 L818.0 138.5 L841.5 134.0 L842.1 131.9 L842.6 129.7 L843.0 127.5 L844.7 126.1 L846.5 125.0 L847.3 122.9 L847.5 120.6 L848.2 118.4 L849.1 116.3 L850.3 114.3 L850.7 112.1 L851.5 110.0 L851.6 107.8 L852.2 105.6 L852.4 103.4 L852.5 101.2 L853.4 99.1 L853.6 96.9 L853.4 94.6 L854.0 92.5 L854.6 90.6 L855.1 88.6 L856.1 86.8 L856.5 84.8 L856.6 82.7 L857.8 81.0 L857.5 78.8 L858.4 76.9 L859.0 75.0 L860.5 76.9 L862.6 78.1 L864.0 80.0 L865.9 78.5 L867.4 76.6 L869.7 75.6 L871.5 74.0 L873.9 74.9 L876.5 75.4 L879.0 76.0 L879.5 78.2 L880.9 79.9 L881.3 82.1 L882.2 84.0 L883.1 86.0 L884.0 88.0 L884.7 90.0 L885.0 92.1 L885.6 94.2 L886.8 96.0 L887.2 98.1 L888.1 100.0 L889.8 103.3 L891.9 103.2 L893.9 104.1 L894.5 106.3 L895.6 108.3 L897.5 109.5 L899.2 111.0 L901.4 111.6 L902.5 113.5 L904.3 114.8 L905.5 116.6 L904.0 119.2 L902.2 121.6 L900.0 123.5 L898.0 125.7 L895.8 127.4 L893.1 128.2 L891.5 129.5 L889.8 130.7 L890.9 132.6 L891.4 134.8 L890.0 136.8 L888.4 138.5 L886.4 139.8 L883.9 140.4 L881.5 141.5 L880.6 143.4 L879.0 144.8 L877.0 146.3 L874.8 147.3 L873.2 149.0 L871.5 150.6 L869.6 152.0 L868.2 153.9 L867.8 156.1 L866.5 158.0 L865.2 160.0 L865.1 162.9 L864.8 165.8 L863.5 168.2 L862.3 170.6 L863.8 172.2 L865.6 173.4 L867.6 174.4 L866.2 176.1 L865.6 178.4 L864.3 180.2 L863.3 183.1 L865.7 184.0 L868.1 185.0 L870.2 186.8 L872.0 188.9 L873.9 191.8 L876.4 191.5 L878.7 190.3 L880.7 190.9 L882.8 190.5 L882.1 186.9 L879.7 184.1 L876.8 183.6 L880.0 185.2 L881.3 187.5 L881.6 189.5 L879.0 189.5 L876.0 191.5 L873.9 192.7 L872.5 195.5 L871.0 197.5 L868.1 198.5 L865.2 200.4 L862.3 202.3 L860.6 203.6 L858.5 204.3 L856.7 205.3 L854.7 205.8 L852.7 206.2 L850.9 207.4 L848.9 208.1 L846.6 208.7 L844.3 209.3 L842.1 210.0 L840.4 211.8 L838.7 213.7 L836.4 214.9 L834.5 216.4 L832.5 217.7 L830.5 221.0 L830.6 222.6 L832.4 220.9 L834.5 219.4 L836.4 217.7 L838.5 217.2 L840.3 216.0 L842.1 214.9 L844.4 214.6 L846.7 214.4 L848.9 213.9 L850.9 212.1 L852.7 210.0 L855.6 209.5 L858.5 210.0 L856.5 211.4 L854.9 213.2 L853.2 214.8 L851.8 216.8 L849.7 217.7 L848.0 219.3 L846.1 220.5 L844.1 221.6 L842.4 222.9 L840.2 223.4 L838.5 224.9 L836.4 225.4 L834.6 226.5 L832.6 227.0 L830.6 227.4 L828.5 229.0 L829.0 229.5 L830.2 231.9 L830.8 234.4 L831.5 237.0 L832.1 239.3 L832.2 241.7 L831.7 244.0 L831.7 246.1 L831.3 248.1 L830.5 250.0 L830.1 252.1 L830.0 254.2 L828.5 256.0 L828.4 258.1 L827.2 260.0 L826.5 262.2 L825.1 263.9 L823.3 262.1 L821.7 260.1 L820.2 258.1 L818.4 256.6 L816.6 255.1 L815.2 253.2 L814.3 250.5 L812.7 248.2 L812.5 252.0 L813.1 254.2 L814.7 255.9 L815.8 257.8 L816.9 259.8 L818.4 261.8 L819.5 264.0 L820.2 266.4 L823.4 268.8 L824.0 271.0 L824.5 273.3 L824.3 275.7 L825.1 277.9 L824.8 280.0 L824.3 282.0 L822.6 283.7 L822.4 285.8 L821.8 287.8 L821.8 289.9 L821.0 291.9 L821.1 294.0 L820.2 296.0 L819.5 298.0 L818.4 299.9 L817.9 302.0 L817.7 304.2 L816.0 303.4 L816.2 300.5 L816.0 297.7 L815.3 295.8 L814.9 293.8 L814.2 291.8 L814.4 289.7 L813.6 287.8 L812.4 285.7 L811.4 283.5 L809.7 281.7 L808.6 279.5 L807.2 277.5 L806.7 275.0 L805.3 273.0 L805.4 270.8 L804.9 268.8 L804.4 266.7 L803.7 264.7 L802.0 261.4 L801.2 263.6 L801.0 266.0 L801.4 268.1 L802.6 269.9 L803.0 272.0 L802.6 274.3 L802.5 276.7 L802.0 279.0 L804.0 280.1 L805.3 282.0 L806.0 283.9 L806.0 286.0 L806.0 288.0 L808.3 289.3 L810.3 291.0 L809.4 293.4 L809.0 296.0 L810.5 297.9 L812.7 299.0 L812.9 301.5 L813.0 304.0 L813.9 306.0 L815.2 307.8 L816.9 309.2 L817.3 311.4 L818.7 313.2 L819.7 315.2 L820.2 317.4 L821.8 319.2 L823.1 321.2 L824.4 323.2 L825.3 325.4 L826.7 327.3 L827.6 329.2 L828.9 330.8 L830.5 332.2 L831.7 333.9 L831.3 336.1 L830.8 338.3 L830.9 340.5 L829.8 342.5 L827.9 343.7 L826.2 345.2 L825.1 347.1 L823.6 348.6 L822.4 350.2 L821.4 352.1 L820.2 353.7 L818.3 355.2 L815.9 355.9 L814.1 357.5 L811.9 358.6 L808.3 357.9 L806.7 359.2 L805.3 360.6 L804.4 362.6 L803.0 364.0 L802.1 365.9 L800.6 367.4 L800.0 369.4 L799.2 371.3 L799.3 373.4 L798.4 375.2 L796.2 376.0 L793.9 376.4 L791.5 376.0 L789.3 376.8 L787.6 378.5 L786.8 380.8 L784.7 382.2 L783.6 384.3 L782.4 386.1 L782.1 388.2 L781.8 390.2 L780.9 392.1 L780.3 394.1 L778.9 396.0 L777.4 397.8 L775.0 398.7 L773.5 400.6 L772.0 402.4 L770.6 403.8 L768.8 404.9 L767.8 406.7 L766.1 407.8 L764.7 409.2 L763.7 411.1 L762.1 412.3 L761.1 414.5 L759.8 416.5 L758.7 418.6 L757.2 420.5 L756.3 422.5 L755.8 424.7 L754.8 426.7 L753.9 428.7 L754.0 431.3 L752.9 433.8 L753.0 436.5 L753.2 439.0 L753.0 441.5 L753.0 444.0 L753.2 446.5 L753.2 449.1 L754.0 451.5 L754.8 454.0 L754.9 456.6 L756.0 459.0 L756.7 460.9 L757.5 462.8 L758.2 464.6 L759.0 466.5 L760.7 468.4 L761.6 470.7 L763.1 472.7 L764.0 475.0 L765.5 476.5 L765.7 478.8 L767.3 480.2 L768.0 482.2 L769.0 484.0 L769.9 485.9 L771.1 487.6 L772.4 489.3 L773.3 491.2 L774.3 493.0 L775.2 494.9 L776.5 496.5 L777.9 498.3 L778.4 500.6 L779.7 502.5 L780.7 504.5 L781.2 506.8 L782.5 508.7 L783.5 510.7 L785.0 512.9 L786.7 515.0 L787.5 517.3 L788.4 519.5 L789.9 521.4 L790.6 523.5 L791.1 525.7 L791.8 527.8 L792.4 530.0 L793.1 532.1 L793.1 534.3 L793.6 536.4 L793.7 538.5 L794.0 540.7 L794.2 542.8 L793.4 544.9 L793.4 547.0 L793.0 549.1 L793.1 551.3 L791.6 553.3 L791.2 555.8 L789.9 557.8 L787.7 559.3 L785.6 561.0 L783.5 560.5 L781.3 561.0 L780.2 559.3 L778.2 558.4 L777.1 556.7 L775.6 554.2 L774.9 551.3 L773.1 549.9 L771.1 548.9 L769.6 547.1 L766.8 546.3 L764.2 544.9 L762.7 542.4 L762.1 539.6 L760.1 537.9 L757.8 536.4 L755.8 535.0 L753.5 534.2 L752.8 532.3 L751.1 531.0 L750.5 529.0 L749.4 527.3 L748.2 525.7 L746.8 524.0 L746.4 521.7 L745.4 519.8 L743.9 518.2 L742.3 516.5 L741.7 514.2 L739.8 512.6 L738.6 510.7 L737.9 508.6 L737.6 506.3 L736.4 504.3 L737.0 502.2 L736.4 500.1 L737.0 498.0 L736.8 495.8 L736.7 493.7 L736.5 491.5 L734.6 489.4 L733.0 487.0 L730.8 485.8 L729.0 484.0 L726.9 482.1 L725.0 480.0 L723.2 478.1 L721.0 476.5 L718.7 475.8 L717.0 474.1 L715.0 473.0 L712.8 472.6 L710.5 472.5 L708.5 471.5 L706.8 472.8 L704.8 473.7 L703.0 475.0 L700.7 476.5 L698.5 478.0 L695.9 479.2 L693.0 479.5 L690.8 478.7 L688.5 479.0 L687.5 476.4 L686.0 474.0 L685.2 471.7 L683.5 470.0 L680.6 469.4 L678.0 468.0 L675.7 467.8 L673.5 467.0 L671.4 467.8 L669.1 467.4 L667.0 468.0 L665.0 468.6 L663.1 469.1 L661.0 469.0 L659.0 469.6 L656.9 469.6 L655.0 470.5 L652.8 470.5 L650.7 471.4 L648.5 471.5 L645.0 470.0 L643.1 471.1 L641.0 471.5 L639.1 470.8 L637.0 471.0 L635.2 471.9 L633.5 473.0 L631.3 472.8 L629.2 473.5 L627.0 473.0 L625.1 473.8 L623.0 473.5 L621.0 474.0 L618.5 476.5 L620.8 477.7 L623.0 479.0 L626.0 481.5 L624.9 483.6 L623.0 485.0 L621.6 486.8 L621.0 489.0 L622.4 491.1 L624.0 493.0 L625.0 496.5 L623.2 498.0 L622.0 500.0 L618.5 501.5 L616.2 501.1 L614.3 499.5 L612.0 499.0 L609.7 498.8 L607.9 497.4 L605.6 497.2 L603.5 496.5 L601.9 497.9 L600.0 499.0 L598.0 499.4 L596.0 500.0 L593.5 499.5 L591.0 500.0 L588.4 499.2 L586.0 498.0 L584.1 497.2 L582.7 495.6 L581.0 494.5 L578.4 493.2 L576.0 491.5 L574.2 492.9 L572.0 493.5 L568.5 493.0 L566.3 493.0 L564.2 492.7 L562.1 492.2 L560.0 491.5 L557.7 491.6 L555.5 491.5 L553.3 490.8 L551.0 491.0 L548.8 491.3 L546.6 491.2 L544.4 491.7 L542.2 491.6 L540.0 491.5 L538.2 492.9 L536.1 493.6 L534.2 494.7 L531.9 494.9 L530.0 496.0 L528.0 497.0 L526.2 498.5 L524.0 499.4 L521.8 500.1 L520.2 502.0 L517.8 502.5 L516.0 504.0 L514.4 505.2 L512.7 506.3 L510.8 507.2 L509.4 508.8 L507.7 509.8 L506.0 511.0 L504.2 512.0 L502.4 512.9 L501.1 514.6 L499.1 515.4 L497.5 516.6 L496.0 518.0 L494.2 519.4 L492.6 521.1 L490.9 522.6 L489.0 524.0 L487.7 526.4 L485.7 528.2 L484.7 530.4 L483.4 532.5 L481.4 534.1 L480.3 536.2 L480.0 538.4 L479.6 540.6 L479.1 542.7 L477.8 544.7 L477.6 546.9 L477.5 549.3 L478.0 551.7 L478.5 554.0 L479.3 556.0 L480.0 558.1 L480.3 560.3 L481.0 562.4 L481.3 564.6 L482.2 566.7 L482.3 569.0 L480.0 570.1 L477.6 571.0 L475.7 570.1 L474.3 568.4 L472.3 567.7 L470.3 567.0 L468.3 567.3 L466.3 567.5 L464.3 567.0 L462.5 565.5 L460.2 565.2 L458.2 564.1 L456.2 563.0 L454.0 562.8 L452.2 561.8 L450.2 561.0 L448.2 560.3 L446.9 557.6 L445.5 555.0 L444.2 553.3 L443.4 551.2 L441.8 549.6 L441.0 547.6 L440.2 545.6 L439.4 543.3 L439.4 540.9 L438.7 538.6 L438.8 536.2 L437.1 535.0 L436.0 533.2 L434.6 531.7 L433.5 529.9 L432.2 528.4 L430.8 526.9 L429.7 524.7 L428.2 522.8 L426.9 520.7 L425.4 518.8 L424.9 516.7 L423.6 514.9 L422.7 513.0 L422.0 511.0 L421.5 509.0 L419.7 507.7 L419.2 505.6 L418.0 504.0 L416.6 502.1 L414.6 500.8 L413.8 498.5 L412.0 497.0 L410.7 495.3 L408.8 494.1 L407.3 492.7 L405.5 491.5 L403.1 490.5 L400.4 490.6 L398.0 489.5 L396.0 489.3 L394.0 489.2 L392.0 489.0 L389.9 489.0 L387.9 489.3 L386.0 490.0 L383.0 491.5 L381.7 493.2 L380.9 495.2 L379.6 496.9 L379.0 499.0 L377.7 500.9 L376.5 502.9 L375.5 505.0 L373.2 504.0 L371.0 502.9 L368.9 501.6 L367.0 500.0 L365.1 498.9 L363.2 498.0 L361.8 496.1 L359.8 495.1 L358.0 494.0 L356.6 492.0 L355.1 490.2 L353.7 488.3 L352.0 486.5 L351.3 484.0 L350.1 481.6 L350.0 479.0 L349.3 476.4 L348.0 474.0 L347.0 472.1 L345.5 470.5 L344.3 468.7 L343.0 467.0 L341.5 465.0 L339.3 463.7 L338.0 461.5 L336.5 459.5 L334.5 458.0 L333.0 456.0 L331.0 454.8 L329.5 453.2 L328.0 451.5 L326.9 449.5 L325.1 448.0 L324.0 446.0 L320.5 441.0 L307.0 441.8 L292.7 442.7 L291.1 450.6 L277.9 449.0 L260.0 446.7 L242.5 444.4 L213.0 427.2 L184.8 410.6 L170.0 405.7 L145.0 401.5 L144.8 399.3 L144.5 397.1 L143.5 395.1 L143.0 393.0 L141.9 390.9 L141.0 388.7 L140.0 386.5 L138.9 384.8 L137.7 383.1 L136.4 381.5 L135.0 380.0 L133.5 377.9 L131.3 376.3 L130.0 374.0 L128.1 372.8 L126.5 371.2 L125.0 369.5 L123.9 367.5 L122.2 366.0 L121.0 364.0 L119.3 361.7 L117.5 359.5 L115.1 359.2 L113.0 358.3 L111.0 357.0 L108.9 356.4 L107.1 355.2 L105.0 354.5 L103.1 352.7 L101.1 351.0 L99.0 349.5 L98.6 347.4 L98.7 345.2 L98.5 343.0 L98.1 341.0 L97.8 339.0 L97.5 337.0 L96.0 334.9 L95.6 332.1 L94.0 330.0 L92.7 327.8 L92.5 325.1 L91.0 323.0 L90.9 320.9 L89.4 319.1 L89.4 317.0 L88.2 313.9 L87.1 311.8 L86.1 309.7 L86.7 307.3 L86.5 304.8 L89.0 303.9 L90.3 301.4 L89.9 298.1 L87.4 297.3 L84.5 294.8 L84.1 292.6 L82.8 290.7 L83.6 288.2 L82.8 284.9 L83.6 282.4 L84.2 280.3 L84.9 278.2 L82.4 276.1 L80.3 273.2 L77.8 272.8 L78.6 270.8 L79.9 269.1 L79.0 266.7 L78.7 264.1 L77.7 261.8 L75.8 260.0 L74.3 257.6 L73.3 255.0 L72.5 252.0 L72.8 250.0 L72.6 248.0 L73.3 246.0 L73.5 244.0 L74.2 241.7 L73.4 239.3 L74.0 237.0 L73.3 234.8 L72.0 233.0 L71.0 231.0 L71.1 228.8 L70.6 226.6 L70.0 224.5 L70.0 222.0 L71.1 219.6 L71.0 217.0 L72.1 215.1 L72.8 213.0 L73.9 211.1 L75.5 209.5 L76.6 207.6 L77.7 205.7 L78.7 203.8 L80.0 202.0 L79.7 200.0 L80.1 198.0 L80.2 196.0 L80.5 194.0 L81.0 191.7 L80.3 189.3 L81.0 187.0 L81.8 185.1 L82.4 183.1 L82.1 180.9 L83.0 179.0 L84.1 176.8 L84.6 174.4 L85.0 172.0 L86.4 170.4 L86.8 168.3 L87.9 166.5 L88.9 164.7 L90.0 163.0 L91.5 161.2 L92.1 159.0 L92.9 156.9 L94.0 155.0 L94.5 152.8 L94.9 150.6 L95.3 148.4 L95.9 146.2 L97.3 144.3 L97.5 142.0 L97.9 139.9 L99.1 138.1 L99.0 135.9 L99.6 133.9 L100.4 132.0 L101.0 130.0 L101.3 127.9 L102.0 126.0 L103.2 124.1 L103.7 122.1 L104.2 120.1 L104.5 118.0 L105.3 115.8 L106.3 113.7 L107.1 111.5 L107.4 109.2 L108.0 107.0 L108.6 104.9 L108.3 102.7 L109.5 100.7 L109.5 98.5 L110.0 96.4 L110.9 94.0 L111.2 91.5 L111.0 88.6 L110.4 85.7 L110.4 83.2 L110.4 80.6 L111.2 78.2 L110.8 75.9 L109.5 74.0 L108.7 71.2 L108.7 68.2 L109.5 65.7Z" fill="none" stroke="#4e4e4e" stroke-width="1.25" stroke-linejoin="round"/>
<path d="M550.7 146.8 L561.4 139.4 L573.0 129.5 L582.8 119.7 L587.0 111.4 L589.4 107.3 L596.0 102.4 L601.8 96.6 L609.2 98.2 L620.7 99.1 L625.7 98.2 L630.6 108.1 L638.8 113.1 L647.1 112.2 L647.9 119.7 L653.7 124.6 L653.7 132.8 L657.0 134.5 L656.1 139.4 L661.9 139.4 L662.7 142.7 L658.6 141.1 L653.7 141.9 L648.7 137.8 L642.1 139.4 L633.9 141.1 L627.3 146.0 L620.7 145.2 L614.1 141.1 L607.5 138.6 L601.8 141.1 L600.1 136.1 L605.1 131.2 L609.2 127.1 L603.4 127.9 L597.7 134.5 L591.1 137.8 L582.8 142.7 L575.4 147.7 L568.8 146.8 L568.0 141.9 L563.1 144.4 L556.5 146.0Z M628.5 243.0 L622.0 237.0 L618.0 225.0 L616.0 212.0 L616.6 202.0 L619.1 188.8 L624.0 172.4 L629.0 159.2 L632.3 155.9 L638.8 152.6 L645.4 151.0 L652.0 151.8 L655.3 152.6 L652.0 155.9 L649.6 160.8 L648.7 167.4 L647.9 175.7 L645.4 176.5 L643.8 170.7 L638.8 174.0 L635.6 182.3 L634.7 192.1 L636.4 202.0 L638.8 213.0 L640.0 219.5 L638.0 230.0 L636.0 238.0Z M615.8 172.4 L622.4 162.5 L625.7 157.5 L629.8 156.7 L627.3 162.5 L622.4 172.4 L617.4 182.3 L613.3 185.6 L611.7 182.3Z M655.3 153.0 L660.0 151.3 L665.2 149.9 L671.8 149.7 L670.1 146.8 L662.7 142.7 L671.8 143.6 L680.0 143.0 L689.9 142.2 L698.1 142.2 L709.7 143.9 L716.2 149.7 L722.0 154.6 L724.5 159.5 L728.6 162.0 L729.4 164.5 L724.5 163.7 L725.3 169.4 L719.5 167.8 L712.9 169.4 L710.5 164.5 L706.4 160.4 L700.6 158.7 L704.7 163.7 L707.2 172.7 L703.1 181.0 L702.2 187.5 L705.5 194.1 L703.1 200.7 L697.3 205.7 L696.5 205.3 L693.2 195.4 L688.3 185.6 L681.7 188.8 L676.7 195.4 L673.4 195.4 L672.6 190.5 L676.7 185.6 L678.4 175.7 L676.7 164.1 L670.1 157.5 L661.9 155.9Z M686.6 233.7 L693.2 237.8 L701.4 237.0 L711.3 232.0 L721.2 225.4 L729.4 218.8 L737.7 213.9 L744.3 205.7 L747.5 200.7 L745.9 199.9 L737.7 201.5 L729.4 205.7 L727.8 209.8 L715.4 209.8 L708.0 215.6 L701.4 222.1 L698.1 226.3 L689.9 227.1Z M734.4 192.5 L733.5 189.2 L737.7 182.6 L749.2 176.8 L762.4 171.1 L772.3 166.1 L780.5 162.0 L783.8 159.5 L783.0 163.7 L779.7 167.8 L783.8 169.4 L783.8 176.8 L777.2 184.2 L765.7 187.5 L752.5 188.4 L745.1 191.7 L739.3 194.1Z M697.3 205.7 L695.6 212.3 L692.4 213.9 L691.5 218.8 L696.5 220.5 L698.1 217.2 L698.5 211.0Z" fill="#fff" stroke="#5c5c5c" stroke-width="0.75" stroke-linejoin="round"/>
<g clip-path="url(#usclip)"><path d="M550.7 146.8 L561.4 139.4 L573.0 129.5 L582.8 119.7 L587.0 111.4 L589.4 107.3 L596.0 102.4 L601.8 96.6 L609.2 98.2 L620.7 99.1 L625.7 98.2 L630.6 108.1 L638.8 113.1 L647.1 112.2 L647.9 119.7 L653.7 124.6 L653.7 132.8 L657.0 134.5 L656.1 139.4 L661.9 139.4 L662.7 142.7 L658.6 141.1 L653.7 141.9 L648.7 137.8 L642.1 139.4 L633.9 141.1 L627.3 146.0 L620.7 145.2 L614.1 141.1 L607.5 138.6 L601.8 141.1 L600.1 136.1 L605.1 131.2 L609.2 127.1 L603.4 127.9 L597.7 134.5 L591.1 137.8 L582.8 142.7 L575.4 147.7 L568.8 146.8 L568.0 141.9 L563.1 144.4 L556.5 146.0Z M628.5 243.0 L622.0 237.0 L618.0 225.0 L616.0 212.0 L616.6 202.0 L619.1 188.8 L624.0 172.4 L629.0 159.2 L632.3 155.9 L638.8 152.6 L645.4 151.0 L652.0 151.8 L655.3 152.6 L652.0 155.9 L649.6 160.8 L648.7 167.4 L647.9 175.7 L645.4 176.5 L643.8 170.7 L638.8 174.0 L635.6 182.3 L634.7 192.1 L636.4 202.0 L638.8 213.0 L640.0 219.5 L638.0 230.0 L636.0 238.0Z M615.8 172.4 L622.4 162.5 L625.7 157.5 L629.8 156.7 L627.3 162.5 L622.4 172.4 L617.4 182.3 L613.3 185.6 L611.7 182.3Z M655.3 153.0 L660.0 151.3 L665.2 149.9 L671.8 149.7 L670.1 146.8 L662.7 142.7 L671.8 143.6 L680.0 143.0 L689.9 142.2 L698.1 142.2 L709.7 143.9 L716.2 149.7 L722.0 154.6 L724.5 159.5 L728.6 162.0 L729.4 164.5 L724.5 163.7 L725.3 169.4 L719.5 167.8 L712.9 169.4 L710.5 164.5 L706.4 160.4 L700.6 158.7 L704.7 163.7 L707.2 172.7 L703.1 181.0 L702.2 187.5 L705.5 194.1 L703.1 200.7 L697.3 205.7 L696.5 205.3 L693.2 195.4 L688.3 185.6 L681.7 188.8 L676.7 195.4 L673.4 195.4 L672.6 190.5 L676.7 185.6 L678.4 175.7 L676.7 164.1 L670.1 157.5 L661.9 155.9Z M686.6 233.7 L693.2 237.8 L701.4 237.0 L711.3 232.0 L721.2 225.4 L729.4 218.8 L737.7 213.9 L744.3 205.7 L747.5 200.7 L745.9 199.9 L737.7 201.5 L729.4 205.7 L727.8 209.8 L715.4 209.8 L708.0 215.6 L701.4 222.1 L698.1 226.3 L689.9 227.1Z M734.4 192.5 L733.5 189.2 L737.7 182.6 L749.2 176.8 L762.4 171.1 L772.3 166.1 L780.5 162.0 L783.8 159.5 L783.0 163.7 L779.7 167.8 L783.8 169.4 L783.8 176.8 L777.2 184.2 L765.7 187.5 L752.5 188.4 L745.1 191.7 L739.3 194.1Z M697.3 205.7 L695.6 212.3 L692.4 213.9 L691.5 218.8 L696.5 220.5 L698.1 217.2 L698.5 211.0Z" fill="none" stroke="#4e4e4e" stroke-width="1.15" stroke-linejoin="round"/></g>
<path d="M672.0 148.5 L680.0 147.0 L686.6 147.2 L692.4 144.7 L697.3 143.9 L698.1 148.8 L695.6 153.8 L689.9 151.3 L684.9 151.3 L678.0 150.0Z M588.5 120.3 L592.0 117.5 L597.0 114.8 L598.0 115.6 L594.0 118.5 L590.0 121.0Z M592.5 110.5 L595.0 107.0 L597.0 104.5 L598.0 105.2 L596.0 108.5 L593.5 111.2Z M598.5 104.0 L600.5 100.5 L602.0 100.8 L600.3 104.5Z" fill="#fff" stroke="#5c5c5c" stroke-width="0.75" stroke-linejoin="round"/>
<path d="M242.6 231.0 L244.3 231.5 L246.4 232.8 L248.3 232.6 L248.0 235.5 L250.1 238.2 L250.7 241.9 L251.7 242.2 L252.8 237.1 L254.9 236.6 L257.6 238.7 L256.6 240.9 L254.4 242.5 L255.7 245.1 L258.4 249.1 L256.6 251.3 L253.9 252.1 L250.1 254.0 L247.5 252.1 L245.6 249.9 L244.8 245.7 L244.5 242.5 L242.1 242.2 L241.6 240.6 L242.9 238.2 L242.4 233.9Z" fill="#fff" stroke="#fff" stroke-width="0.4" stroke-linejoin="round"/>
<path d="M802.6 262.0 L803.6 266.5 L804.2 271.3 L805.8 279.5 L808.5 287.0 L810.4 293.0 L812.0 300.0 L813.8 306.8 L818.2 307.3 L817.2 300.0 L815.3 292.0 L812.2 285.5 L808.8 279.5 L806.0 273.0 L804.4 264.7 L803.5 261.5Z" fill="#fff" stroke="#505050" stroke-width="0.7" stroke-linejoin="round"/>
<path d="M814.5 256.0 L816.9 259.8 L821.8 261.4 L824.3 266.4 L820.2 266.4 L816.9 263.1Z" fill="#fff" stroke="#505050" stroke-width="0.7" stroke-linejoin="round"/>
<path d="M815.2 325.2 L823.4 323.8 L827.3 329.3 L830.5 335.5 L829.9 339.4 L824.0 345.3 L818.5 347.0 L820.5 343.5 L824.9 338.2 L825.8 332.3 L821.8 327.6Z" fill="#fff" stroke="#505050" stroke-width="0.7" stroke-linejoin="round"/>
<path d="M86.1 272.9 L87.6 272.2 L88.6 274.0 L87.4 275.4 L86.1 275.0Z" fill="#fff" stroke="#505050" stroke-width="0.7" stroke-linejoin="round"/>
<path d="M85.9 280.7 L87.4 280.4 L88.3 283.0 L87.8 284.6 L86.3 283.3Z" fill="#fff" stroke="#505050" stroke-width="0.7" stroke-linejoin="round"/>
<path d="M609.4 481.0 L611.5 480.0 L613.6 481.0 L613.2 483.6 L610.6 484.4Z" fill="#fff" stroke="#505050" stroke-width="0.7" stroke-linejoin="round"/>
<path d="M639.5 472.0 L639.3 467.5 L640.6 465.3 L642.0 467.0 L643.2 470.0 L644.4 473.5Z" fill="#fff" stroke="#505050" stroke-width="0.7" stroke-linejoin="round"/>
<path d="M570.3 491.0 L572.5 489.3 L575.5 490.0 L577.5 491.5 L575.5 493.5 L576.0 496.0 L573.5 495.0 L572.5 492.5Z" fill="#fff" stroke="#505050" stroke-width="0.7" stroke-linejoin="round"/>
<path d="M473.0 541.0 L475.5 538.8 L477.3 540.5 L476.5 543.8 L474.0 544.3Z" fill="#fff" stroke="#505050" stroke-width="0.7" stroke-linejoin="round"/>
<path d="M479.3 532.6 L481.3 530.6 L483.0 531.6 L481.3 533.8Z" fill="#fff" stroke="#505050" stroke-width="0.7" stroke-linejoin="round"/>
<path d="M482.0 527.3 L484.2 525.2 L485.8 526.5 L484.0 528.5Z" fill="#fff" stroke="#505050" stroke-width="0.7" stroke-linejoin="round"/>
<path d="M491.2 518.5 L494.0 515.5 L498.0 513.8 L499.8 515.0 L496.0 517.5 L493.0 519.6Z" fill="#fff" stroke="#505050" stroke-width="0.7" stroke-linejoin="round"/>
<path d="M520.0 494.5 L521.5 491.3 L523.5 490.8 L525.8 492.5 L524.5 495.0 L522.8 496.3 L522.0 498.8 L520.3 497.5Z" fill="#fff" stroke="#505050" stroke-width="0.7" stroke-linejoin="round"/>
<path d="M478.6 548.0 L479.6 555.0 L481.2 562.5 L482.2 567.0 L481.2 567.3 L479.9 562.5 L478.4 555.0 L477.8 548.5Z" fill="#fff" stroke="#505050" stroke-width="0.7" stroke-linejoin="round"/>
<path d="M540.5 489.5 L541.5 487.3 L543.0 487.8 L542.5 490.3Z" fill="#fff" stroke="#505050" stroke-width="0.7" stroke-linejoin="round"/>
<path d="M775.5 521.4 L778.0 517.4 L780.5 521.2Z" fill="#fff" stroke="#505050" stroke-width="0.7" stroke-linejoin="round"/>
<path d="M131.5 62.9 L134.0 61.6 L136.5 62.0 L137.5 63.6 L139.0 64.1 L140.8 64.0 L141.6 66.0 L141.0 68.4 L139.0 69.9 L136.5 68.7 L133.2 68.2 L131.5 66.2Z" fill="#505050" stroke="#505050" stroke-width="0.8" stroke-linejoin="round"/>
<path d="M135.7 74.0 L138.1 70.7 L140.3 71.5 L141.5 74.0 L142.7 79.4 L140.5 81.0 L139.0 83.2 L139.4 85.5 L138.6 87.3 L137.8 90.0 L136.5 92.3 L134.0 94.0 L131.5 95.6 L129.0 95.2 L126.5 96.0 L124.9 93.9 L125.7 89.8 L128.2 85.7 L130.5 84.0 L133.2 81.5 L135.7 77.4 L133.5 76.2 L131.5 76.5 L133.0 74.6Z" fill="#505050" stroke="#505050" stroke-width="0.8" stroke-linejoin="round"/>
<path d="M861.5 193.8 L864.0 195.2 L866.5 197.5 L866.0 200.3 L863.2 201.0 L861.7 198.5Z" fill="#505050" stroke="#505050" stroke-width="0.8" stroke-linejoin="round"/>
<path d="M604.3 490.0 L608.0 491.5 L613.6 490.0 L615.5 486.0 L617.7 481.8 L621.8 477.7 L622.0 481.0 L620.8 484.9 L618.5 488.0 L615.6 491.0 L620.0 493.5 L625.9 497.2 L625.0 499.5 L623.9 501.3 L621.0 501.0 L618.7 503.4 L617.0 499.5 L613.6 496.2 L611.0 498.0 L608.4 498.3 L606.5 496.5 L604.3 496.2 L605.5 493.0Z" fill="#505050" stroke="#505050" stroke-width="0.8" stroke-linejoin="round"/>
<path d="M776.5 554.0 L780.0 556.5 L783.5 557.5 L788.0 555.5 L791.0 551.5 L792.3 552.5 L790.0 557.8 L785.6 561.4 L781.3 561.4 L777.1 556.9Z" fill="#505050" stroke="#505050" stroke-width="0.8" stroke-linejoin="round"/>
<path d="M128.6 88.8 L130.6 86 L133.6 84.9 L134.6 87.2 L132.4 89.6 L130 90.4 Z" fill="#E38B4B"/>
<path d="M905.8 117.5 L903.9 118.5 L903.5 120.3 L902.0 121.3 L900.5 122.7 L900.4 125.4 L898.8 127.2 L895.8 125.5 L895.1 128.1 L893.6 128.9 L890.4 128.1 L889.9 130.7 L889.3 133.1 L891.1 134.9 L889.1 136.1 L888.8 138.9 L886.2 139.4 L884.4 139.2 L883.1 140.9 L880.8 141.0 L879.8 142.8 L879.8 146.1 L876.5 145.3 L874.6 147.1 L873.6 149.4 L872.6 151.7 L869.0 151.4 L868.3 153.9 L866.7 155.7 L865.2 157.9 L865.6 159.9 L866.1 162.0" fill="none" stroke="#505050" stroke-width="1.5" stroke-linejoin="round" stroke-linecap="round"/>
<path d="M893.8 131.4 L892.8 133.0 L890.6 133.2 L890.4 134.7 L889.7 136.9 L887.3 138.3 L884.1 138.6 L884.0 141.5" fill="none" stroke="#505050" stroke-width="1.6" stroke-linejoin="round" stroke-linecap="round"/>
<path d="M903.6 122.6 L901.8 123.8 L899.7 124.6 L897.7 125.2 L896.9 127.6 L895.3 128.5 L893.6 128.9 L891.0 128.8 L890.9 130.5 L889.4 132.9 L890.1 134.5 L890.0 137.2 L887.7 138.1 L886.5 140.0 L884.9 140.6 L882.6 139.4 L882.5 142.3 L881.5 144.1 L878.3 143.6 L877.1 146.3 L875.5 148.0 L873.5 149.3 L871.8 150.9 L868.9 151.3 L868.5 154.0" fill="none" stroke="#505050" stroke-width="2.3" stroke-linejoin="round" stroke-linecap="round"/>
<path d="M895.1 130.6 L893.0 132.0 L891.2 133.2 L888.4 134.8 L889.0 137.5 L886.7 138.7 L886.4 142.1 L884.1 142.1 L882.0 142.4 L881.4 144.4 L878.7 144.8 L877.2 146.4 L876.3 149.4 L874.0 150.5" fill="none" stroke="#505050" stroke-width="2.0" stroke-linejoin="round" stroke-linecap="round"/>
<path d="M887.9 130.9 L886.5 132.6 L884.9 134.1 L884.7 136.8 L883.0 138.5" fill="none" stroke="#505050" stroke-width="1.8" stroke-linejoin="round" stroke-linecap="round"/>
<path d="M884.0 143.5 L882.4 145.9 L880.0 147.5" fill="none" stroke="#505050" stroke-width="1.4" stroke-linejoin="round" stroke-linecap="round"/>
<path d="M110.1 88.1 L110.3 90.2 L110.7 91.8 L109.7 93.8 L109.5 96.3 L108.6 98.5 L110.7 101.3 L109.1 102.7 L107.5 104.1 L107.9 106.0 L107.2 108.0 L108.3 110.0" fill="none" stroke="#505050" stroke-width="1.2" stroke-linejoin="round" stroke-linecap="round"/>
<path d="M800.3 260.9 L800.0 262.9 L800.6 265.0 L800.8 266.8 L802.1 268.6 L801.3 271.1 L802.4 273.0 L801.3 274.9 L801.9 277.1 L800.6 279.3 L802.6 280.4 L802.3 282.7 L803.3 284.1 L804.4 286.5 L804.5 289.0" fill="none" stroke="#505050" stroke-width="1.9" stroke-linejoin="round" stroke-linecap="round"/>
<path d="M789.7 282.8 L791.1 284.1 L792.2 285.7 L794.1 286.2 L796.3 286.8 L798.3 288.1 L800.5 289.0 L802.6 290.1 L804.6 291.1 L806.7 292.1 L808.1 293.3 L808.7 295.3 L810.0 296.5" fill="none" stroke="#505050" stroke-width="1.9" stroke-linejoin="round" stroke-linecap="round"/>
<path d="M793.7 294.7 L796.1 294.3 L797.3 296.5 L799.7 296.2 L801.2 297.4 L802.5 299.0 L804.6 299.1 L806.5 300.2 L808.9 300.5 L809.7 303.1 L812.0 304.0" fill="none" stroke="#505050" stroke-width="1.8" stroke-linejoin="round" stroke-linecap="round"/>
<path d="M797.0 302.2 L798.8 302.7 L800.1 304.2 L802.0 304.3 L804.6 304.9 L806.3 307.0 L809.0 307.0 L811.2 308.2 L813.2 308.7 L815.0 310.0" fill="none" stroke="#505050" stroke-width="1.7" stroke-linejoin="round" stroke-linecap="round"/>
<path d="M800.0 309.0 L802.0 309.8 L804.0 310.2 L805.9 311.5 L808.1 310.9 L809.9 312.6 L812.0 312.7 L814.5 313.1 L817.0 313.0" fill="none" stroke="#505050" stroke-width="1.3" stroke-linejoin="round" stroke-linecap="round"/>
<path d="M805.4 261.9 L806.4 263.8 L806.0 266.1 L807.9 267.7 L807.6 269.7 L808.5 271.1 L809.8 272.5 L809.5 274.5 L811.2 275.5 L811.3 277.4 L812.8 278.5 L813.6 280.2 L813.6 282.2 L813.5 284.3 L815.6 285.5 L816.1 287.3 L815.9 289.5 L815.8 291.6 L817.2 293.2 L818.2 295.0 L817.2 297.0 L819.4 298.6 L817.8 300.7 L818.8 302.5" fill="none" stroke="#505050" stroke-width="2.1" stroke-linejoin="round" stroke-linecap="round"/>
<path d="M808.2 267.8 L809.6 269.7 L812.4 270.9 L810.8 272.9 L811.3 274.7 L812.0 276.5" fill="none" stroke="#505050" stroke-width="1.6" stroke-linejoin="round" stroke-linecap="round"/>
<path d="M813.5 280.5 L814.4 282.6 L815.2 284.1 L816.4 285.8 L816.3 287.7 L816.5 289.5" fill="none" stroke="#505050" stroke-width="1.5" stroke-linejoin="round" stroke-linecap="round"/>
<path d="M824.7 272.0 L824.7 274.0 L824.5 276.0 L824.7 278.0 L824.0 279.9 L823.4 281.9 L822.9 284.0 L822.7 286.1 L821.8 288.0 L821.5 290.0 L821.1 292.1 L820.0 293.9 L819.5 295.9 L819.9 298.1 L818.5 299.9 L818.2 302.0 L817.7 304.0" fill="none" stroke="#505050" stroke-width="1.0" stroke-linejoin="round" stroke-linecap="round"/>
<path d="M812.1 321.4 L813.1 322.9 L813.6 324.8 L815.5 325.4 L817.2 326.8 L818.9 328.2 L821.2 328.9 L822.5 331.0 L822.9 333.1 L823.1 334.8 L824.1 337.5 L822.8 339.8 L821.4 341.9 L818.4 342.6 L817.4 344.8 L817.4 347.7 L814.1 348.3 L812.5 351.4 L813.9 352.9 L814.9 354.3 L813.8 356.2 L812.3 357.5 L810.0 357.4 L809.4 359.5 L807.8 360.4 L806.0 361.0" fill="none" stroke="#505050" stroke-width="1.9" stroke-linejoin="round" stroke-linecap="round"/>
<path d="M803.3 322.8 L805.9 322.9 L807.9 325.0 L810.3 324.5 L812.6 324.7 L814.2 325.8 L816.0 326.5" fill="none" stroke="#505050" stroke-width="1.6" stroke-linejoin="round" stroke-linecap="round"/>
<path d="M805.0 338.0 L807.1 339.2 L809.5 340.0 L811.7 340.4 L813.8 341.0 L816.1 341.3 L818.5 341.5" fill="none" stroke="#505050" stroke-width="1.7" stroke-linejoin="round" stroke-linecap="round"/>
<path d="M806.3 345.5 L808.0 347.7 L810.4 348.2 L812.8 347.7 L814.5 349.3" fill="none" stroke="#505050" stroke-width="1.7" stroke-linejoin="round" stroke-linecap="round"/>
<path d="M820.2 317.4 L821.2 319.1 L822.3 320.8 L823.6 322.2 L824.8 323.8 L825.7 325.6 L826.8 327.2 L827.8 329.1 L829.1 330.7 L830.4 332.3 L831.7 333.9 L831.3 336.1 L831.4 338.3 L830.9 340.5 L829.9 342.0 L828.4 343.0 L827.6 344.6 L826.1 345.7 L825.3 347.3 L823.8 348.7 L822.7 350.5 L821.5 352.1 L820.1 353.5 L818.7 354.9 L817.0 355.9 L815.1 356.4 L813.6 357.6 L811.9 358.6" fill="none" stroke="#505050" stroke-width="0.9" stroke-linejoin="round" stroke-linecap="round"/>
<path d="M789.5 377.9 L787.6 378.6 L786.5 379.9 L785.1 381.1 L785.3 383.4 L784.2 384.5 L783.9 386.2 L783.1 387.8 L781.4 389.0 L782.2 391.1 L780.8 392.4 L780.8 394.6 L779.3 395.8 L777.6 397.0 L775.6 397.7 L774.6 399.4 L774.2 401.8 L772.4 402.8 L771.4 404.2 L768.9 404.2 L767.8 405.6 L766.5 406.8 L765.3 408.0 L764.2 409.4 L762.6 410.3 L761.5 411.9 L761.6 414.2 L759.4 415.1 L759.2 417.2 L757.7 418.5 L757.1 420.4 L756.7 422.2 L756.2 423.9 L755.4 425.5 L755.0 427.2 L754.8 428.8 L752.9 430.6 L752.7 432.5 L752.1 434.4 L752.5 436.5 L753.0 438.3 L752.6 440.0 L754.1 441.7 L752.9 443.5 L753.6 445.2 L753.5 447.0" fill="none" stroke="#505050" stroke-width="1.1" stroke-linejoin="round" stroke-linecap="round"/>
<path d="M584.4 495.3 L584.9 498.0 L586.6 499.6 L587.9 501.3 L590.5 500.7 L591.9 501.6 L594.0 502.7 L596.3 502.1 L596.6 500.0 L598.1 499.1 L600.1 498.3 L601.7 499.0 L603.8 499.6 L606.0 498.8 L608.4 498.3" fill="none" stroke="#505050" stroke-width="1.6" stroke-linejoin="round" stroke-linecap="round"/>
<path d="M616.4 477.7 L617.3 475.4 L619.5 475.5 L620.9 473.8 L623.2 474.6 L624.8 472.7 L627.0 473.6 L629.2 473.3 L631.3 473.6 L633.7 473.8 L635.3 472.2 L637.2 472.0 L639.2 472.2 L641.0 471.1 L642.9 471.1 L644.8 471.1 L646.6 472.1 L648.6 472.1 L650.7 471.6 L652.8 470.4 L655.2 471.2 L657.0 470.0 L658.9 469.1 L661.0 468.9 L663.0 468.5 L664.9 467.7 L667.0 468.1 L669.1 467.4 L671.4 467.4 L673.3 467.7 L675.3 467.7 L677.2 467.7 L679.0 468.3" fill="none" stroke="#505050" stroke-width="1.0" stroke-linejoin="round" stroke-linecap="round"/>
<path d="M482.1 569.0 L481.9 567.3 L481.5 565.5 L481.1 563.8 L480.7 562.1 L480.7 560.3 L479.8 558.5 L480.0 556.5 L478.8 554.7 L478.8 552.8 L478.5 550.8 L477.9 549.0 L478.3 547.1 L478.2 545.1 L479.2 543.5 L479.9 541.7 L479.3 539.7 L480.6 538.1 L480.9 536.4 L481.7 534.7 L482.0 532.6 L483.6 531.4 L484.8 529.9 L485.5 528.0 L486.8 526.6 L488.2 525.3 L489.5 524.0 L491.3 523.2 L492.2 521.4 L493.6 520.1 L495.3 519.4 L497.1 518.8 L498.1 517.1 L499.5 515.8 L501.7 516.0 L503.1 514.9 L504.6 513.8 L505.9 512.6 L507.3 511.3 L508.7 510.2 L510.4 509.4 L512.0 508.7 L513.2 507.2 L515.3 507.0 L516.7 505.9 L517.4 504.0 L519.5 503.8 L520.5 502.3 L522.2 501.7 L523.2 500.1 L525.0 499.3 L526.3 497.8 L528.0 496.9 L529.4 495.6 L530.8 493.9 L532.6 493.4 L534.5 492.9 L536.4 492.5 L538.1 491.8 L540.0 491.3" fill="none" stroke="#505050" stroke-width="1.0" stroke-linejoin="round" stroke-linecap="round"/>
<path d="M481.0 567.0 L481.0 565.1 L480.9 563.3 L479.9 561.5 L480.1 559.6 L479.7 557.8 L479.4 556.0 L478.4 554.3 L477.9 552.5 L477.8 550.6 L477.7 548.7 L476.8 546.9 L477.4 545.2 L477.6 543.4 L478.5 541.7 L479.0 539.9 L478.9 538.0 L480.3 536.5 L480.4 534.4 L482.0 533.0 L482.9 531.4 L483.5 529.5" fill="none" stroke="#505050" stroke-width="0.8" stroke-linejoin="round" stroke-linecap="round"/>
<path d="M738.4 503.7 L737.5 505.8 L739.0 507.2 L739.7 508.5 L740.5 511.0 L742.0 513.0 L741.8 515.0 L741.6 516.9 L743.9 517.7 L746.2 519.7 L744.4 521.1 L744.7 522.5 L746.3 524.5 L748.5 525.0" fill="none" stroke="#505050" stroke-width="1.5" stroke-linejoin="round" stroke-linecap="round"/>
<path d="M751.7 531.8 L752.9 533.2 L754.6 534.2 L756.0 535.5 L757.9 536.3 L759.5 537.5" fill="none" stroke="#505050" stroke-width="1.1" stroke-linejoin="round" stroke-linecap="round"/>
<path d="M683.0 470.3 L684.1 471.6 L684.8 473.2 L685.5 474.8 L687.1 475.8 L687.5 477.6 L688.4 479.6 L690.7 479.8 L693.0 479.6 L694.7 478.6 L696.6 478.4 L698.9 478.6 L699.7 476.5 L701.4 475.8 L703.3 475.5 L704.8 473.8 L706.4 472.3 L708.6 471.3 L710.5 472.6 L712.9 472.3 L715.1 472.9 L716.4 474.0 L717.8 475.1 L719.5 475.6 L721.4 476.1 L722.3 477.8 L724.1 478.5 L725.4 479.8 L726.6 481.2 L727.5 482.9 L729.2 483.8 L730.8 485.7 L733.0 487.0" fill="none" stroke="#505050" stroke-width="0.9" stroke-linejoin="round" stroke-linecap="round"/>
<path d="M753.8 447.0 L753.6 449.0 L753.9 451.0 L754.3 453.0 L754.8 454.9 L754.8 457.1 L755.5 459.1 L756.4 461.0 L757.0 463.0 L757.0 464.8 L757.0 466.6 L756.4 468.3 L755.9 470.0 L757.1 471.9 L757.1 474.1 L758.0 476.0" fill="none" stroke="#505050" stroke-width="0.9" stroke-linejoin="round" stroke-linecap="round"/>
<path d="M768.5 484.2 L770.1 485.4 L771.0 487.0 L770.7 489.1 L772.3 490.3 L773.4 491.9 L773.8 493.8 L775.2 495.3 L776.0 497.0" fill="none" stroke="#505050" stroke-width="1.0" stroke-linejoin="round" stroke-linecap="round"/>
<path d="M830.1 222.0 L831.6 220.0 L832.8 218.1 L834.1 215.8 L836.5 215.0 L837.8 213.7 L839.3 212.6 L840.3 211.0 L842.0 209.9 L843.8 209.7 L845.4 208.9 L847.2 208.7 L848.6 207.7 L850.5 206.8 L852.8 206.7 L854.6 205.7 L856.6 205.2 L858.7 204.8 L860.3 203.3 L862.3 202.5" fill="none" stroke="#505050" stroke-width="0.9" stroke-linejoin="round" stroke-linecap="round"/>
<path d="M827.8 229.5 L829.3 228.6 L830.5 227.1 L832.7 227.2 L834.4 225.8 L836.5 225.6 L837.8 224.3 L839.6 224.1 L840.9 222.8 L842.7 222.5 L844.2 221.8 L845.8 220.9 L847.1 219.6 L848.9 219.0 L850.5 218.2 L851.5 216.5 L853.2 215.5 L854.8 214.4 L856.0 212.9 L857.1 211.3 L858.5 210.0" fill="none" stroke="#505050" stroke-width="1.3" stroke-linejoin="round" stroke-linecap="round"/>
<path d="M844.8 218.9 L847.2 217.5 L848.2 215.7 L850.6 213.6 L853.0 213.3 L854.0 211.5" fill="none" stroke="#505050" stroke-width="1.5" stroke-linejoin="round" stroke-linecap="round"/>
<path d="M873.9 192.2 L876.2 191.2 L878.7 190.6 L880.7 190.9 L882.2 190.8 L882.6 188.8 L882.3 186.8 L880.6 185.8 L879.7 184.2 L876.8 183.8" fill="none" stroke="#505050" stroke-width="1.2" stroke-linejoin="round" stroke-linecap="round"/>
<path d="M870.1 198.4 L872.4 197.0 L873.7 198.2 L875.5 198.5" fill="none" stroke="#505050" stroke-width="1.4" stroke-linejoin="round" stroke-linecap="round"/>
<path d="M879.6 197.2 L881.3 197.8 L883.0 198.7 L885.5 196.7" fill="none" stroke="#505050" stroke-width="1.3" stroke-linejoin="round" stroke-linecap="round"/>
<path d="M865.1 160.0 L865.3 161.9 L864.5 163.8 L865.0 165.9 L864.1 167.4 L863.5 169.1 L862.7 170.5 L863.8 172.3 L866.0 172.8 L867.4 174.4 L866.6 176.5 L865.5 178.3 L863.7 180.0 L863.4 182.9 L864.9 183.9 L866.5 184.3 L867.9 185.2 L869.4 186.3 L871.0 187.3 L872.1 188.9 L873.0 190.3 L873.9 191.8" fill="none" stroke="#505050" stroke-width="1.0" stroke-linejoin="round" stroke-linecap="round"/>
<path d="M832.4 217.0 L831.6 219.2 L830.8 221.2 L829.2 222.9 L829.5 225.0 L829.4 227.2 L829.0 229.5" fill="none" stroke="#505050" stroke-width="1.2" stroke-linejoin="round" stroke-linecap="round"/>
<path d="M85 278 L86.3 273.4 L88.2 272.2 L89.4 270.6 L89.9 273.9 L91.5 273.3 L93.2 273.7 L94 272.6 L95.7 275.5 L97 274 L98.6 275 L99.5 276.3 L102.3 278.2 L98.5 277.5 L94.5 276 L90 275.2 M86.6 275.5 L87.3 280 L88.5 284.3 L90.7 287.3 L88.7 286.7 L86.4 283.5" fill="none" stroke="#505050" stroke-width="1.1" stroke-linejoin="round"/>
<path d="M73.7 275.7 L76.6 278.6 M106.5 361 L109 361.8 L112 363.5 M117.5 367.5 L119 369.5 M123.5 378.5 L124.5 381.5 M108.5 372 L110 373.5" fill="none" stroke="#505050" stroke-width="1.2" stroke-linecap="round"/>
<path d="M788.8 562.5 L787.6 563.0 L786.8 564.1 L785.6 564.7 L784.4 565.1 L783.1 565.9 L781.8 566.9 L780.3 567.5 L778.8 567.4 L777.4 568.0 L776.0 568.2" fill="none" stroke="#505050" stroke-width="1.3" stroke-linecap="round"/>
<path d="M776.5 567.6 L775.4 568.2 L774.1 568.6 L772.6 568.1 L771.5 569.1 L770.2 569.5 L769.0 570.2 L767.9 571.0 L766.5 571.2 L765.5 572.0" fill="none" stroke="#505050" stroke-width="2" stroke-linecap="round"/>
<path d="M764 572.6 L760.5 573.9 M748.3 573.4 L746.2 574.2" fill="none" stroke="#505050" stroke-width="1.4" stroke-linecap="round"/>
<path d="M870.5 199.2 L872.5 198.3 L875.2 199.3 L874 201 L872.5 201 L871.8 202.6 M879.3 198 L882.5 199.4 L885 198.3 L885.9 196.2 M861.8 207 L862 208.3 M828 176.5 L828 176.5" fill="none" stroke="#505050" stroke-width="1.3" stroke-linecap="round" stroke-linejoin="round"/>
<path d="M627.5 479.7 C628 484 625 489 621.5 491.5" fill="none" stroke="#505050" stroke-width="0.9"/>
<g font-size="44" fill="#000" transform="translate(0,33.3) scale(1,1.04)"><text x="181.2" y="0">8-14</text><text x="281.4" y="0">Day</text><text x="372.7" y="0" textLength="249.4" lengthAdjust="spacingAndGlyphs">Temperature</text><text x="633.8" y="0">Outlook</text></g>
<text x="368.5" y="0" font-size="19" fill="#000" transform="translate(0,61.5) scale(1,1.07)"><tspan font-weight="bold" textLength="55" lengthAdjust="spacingAndGlyphs">Valid:</tspan><tspan x="437.5" textLength="191.5" lengthAdjust="spacingAndGlyphs">January 12 - 18, 2026</tspan></text>
<text x="368.5" y="0" font-size="19" fill="#000" transform="translate(0,85.5) scale(1,1.07)"><tspan font-weight="bold" textLength="72" lengthAdjust="spacingAndGlyphs">Issued:</tspan><tspan x="455" textLength="138.7" lengthAdjust="spacingAndGlyphs">January 4, 2026</tspan></text>
<g><circle cx="40.4" cy="27.9" r="25.6" fill="#1d9cd8"/><circle cx="40.4" cy="27.9" r="20.4" fill="#fff"/>
<defs><path id="ctop" d="M18.2 27.9 A22.2 22.2 0 0 1 62.599999999999994 27.9"/><path id="cbot" d="M16.0 27.9 A24.4 24.4 0 0 0 64.8 27.9"/></defs>
<text font-size="4.1" font-weight="bold" fill="#fff" letter-spacing="0.05"><textPath href="#ctop" startOffset="50%" text-anchor="middle">DEPARTMENT OF COMMERCE</textPath></text>
<text font-size="4.1" font-weight="bold" fill="#fff" letter-spacing="0.05"><textPath href="#cbot" startOffset="50%" text-anchor="middle">UNITED STATES OF AMERICA</textPath></text>
<circle cx="17.4" cy="28.5" r="0.55" fill="#fff"/><circle cx="63.4" cy="28.5" r="0.55" fill="#fff"/>
<path d="M29.4 24 H51.8 V25 L51.2 25 V33.7 H29.9 V25 L29.4 25 Z" fill="#1b8fd0"/>
<path d="M29.9 33.7 H51.2 V38 C51.2 42 46 44 40.6 45.8 C35 44 29.9 42 29.9 38 Z" fill="#eec11b"/>
<path d="M29.4 24 H51.8" stroke="#2c5f86" stroke-width="0.7"/>
<path d="M33.5 31 L36 28.2 L38 27.2 L39 28 L40 27 L41.5 28 L42.5 27 L44 28.2 L45.5 27.4 L46.3 31.2 L40 31.8 Z" fill="#e8eef2"/>
<path d="M33 31.4 L47 31.2" stroke="#355" stroke-width="0.6"/>
<path d="M40.6 34 V45.5" stroke="#555" stroke-width="0.9"/><path d="M38.6 44.2 H42.6" stroke="#666" stroke-width="0.8"/>
<path d="M33.9 11.8 C36 13 38.2 15.5 39.3 18 L40.2 15.2 L41.3 15.2 L42 18 C43.2 15.5 45.5 13 47.7 11.9 C47.3 15.5 45.2 19 43 20.6 L42.8 22.2 H38.6 L38.5 20.6 C36.4 19 34.3 15.5 33.9 11.8 Z" fill="#b5921c"/>
<path d="M36.3 22.3 H45" stroke="#8a7a3a" stroke-width="0.7"/>
</g>
<g><clipPath id="ncl"><circle cx="927.6" cy="28.3" r="26.75"/></clipPath><g clip-path="url(#ncl)">
<rect x="899.6" y="0.3000000000000007" width="56" height="56" fill="#fff"/>
<path d="M903 13.6 C906 12.6 909.5 13.8 913.2 18 C917.7 24.7 921 30 927.4 32.9 C931 33.2 934.5 31 936.4 29.2 C940.2 23.2 943.9 17.2 948.8 12 L952 -2 L900 -2 Z" fill="#0a2d86"/>
<path d="M900 21.3 L903.5 21.3 C908.7 26.2 913.9 30.7 919.9 34 C923 35.2 926 35.3 929 34.6 C934 32.5 938 29.2 943.9 24 C947 20.5 950 17.6 951.4 16.8 L960 16 L960 60 L896 60 Z" fill="#0a8bd3"/>
<path d="M919.2 38.5 C922.9 36.7 927.4 35.2 933.4 32.9 L939 33.7 L937.9 34.8 C932 35.9 927.4 38.2 922.2 39.7 Z" fill="#fff"/>
</g>
<text x="927.4" y="18.7" font-size="8.6" font-weight="bold" fill="#fff" text-anchor="middle" textLength="21.4" lengthAdjust="spacingAndGlyphs">NOAA</text></g>
<clipPath id="akclip"><path d="M190.3 450.6 L184.0 447.3 L177.4 444.8 L172.5 446.5 L165.9 445.7 L156.0 443.2 L147.8 439.9 L137.9 439.9 L135.1 436.4 L125.2 434.7 L121.9 430.6 L116.1 426.5 L112.0 429.8 L105.4 432.2 L98.8 434.7 L90.6 436.4 L85.7 439.7 L81.5 446.2 L77.4 450.4 L70.8 452.0 L63.4 451.2 L60.1 457.0 L63.4 461.1 L67.5 467.7 L70.8 475.9 L75.8 479.2 L81.5 480.8 L82.4 487.4 L80.7 491.5 L77.4 493.2 L72.5 492.4 L67.5 489.1 L68.4 484.1 L63.4 483.3 L54.4 485.8 L47.0 488.3 L41.2 490.7 L45.3 495.7 L49.4 500.6 L47.8 507.2 L52.7 509.7 L61.0 512.1 L67.5 513.0 L74.1 511.3 L79.1 510.5 L79.9 515.4 L77.4 522.0 L72.5 526.1 L65.9 527.8 L59.3 528.6 L52.5 534.0 L46.0 539.0 L41.0 544.0 L37.5 551.5 L40.0 561.0 L42.5 573.5 L50.0 577.0 L57.5 578.5 L57.0 586.0 L56.0 593.5 L64.0 594.0 L72.5 596.0 L80.0 601.0 L86.0 599.0 L91.0 596.0 L88.0 604.0 L85.0 611.0 L79.0 617.0 L72.5 622.0 L66.0 626.0 L60.0 630.0 L59.0 636.0 L54.0 633.0 L50.0 633.5 L46.0 637.0 L42.5 638.5 L37.0 639.0 L32.5 641.0 L27.0 641.5 L22.5 643.5 L17.0 645.0 L12.5 647.0 L8.0 649.0 L5.5 652.0 L5.5 654.0 L12.0 652.0 L18.0 650.5 L25.0 648.5 L31.0 648.0 L37.5 646.0 L44.0 644.0 L50.0 641.0 L58.0 640.5 L65.0 638.5 L74.0 634.0 L82.5 628.5 L90.0 625.7 L94.9 620.8 L101.5 614.2 L109.8 607.6 L112.2 601.0 L114.7 594.4 L120.5 589.5 L124.6 584.5 L128.7 579.6 L132.8 573.8 L139.4 569.7 L146.0 565.6 L144.4 569.7 L139.4 573.0 L133.7 577.9 L129.5 586.2 L128.7 594.4 L131.2 597.7 L137.8 593.6 L144.4 589.5 L151.0 586.2 L155.9 587.8 L160.8 584.5 L162.5 580.4 L155.9 579.6 L152.6 576.3 L156.7 569.7 L162.5 573.0 L167.4 570.5 L172.4 577.9 L177.3 580.4 L183.9 584.5 L192.1 583.7 L200.4 583.7 L205.3 580.4 L203.7 580.4 L199.6 545.0Z"/><path d="M106.5 620.8 L113.1 614.2 L122.9 605.1 L127.9 609.3 L124.6 617.5 L122.9 622.4 L114.7 627.4 L106.5 633.1 L104.0 632.3 L108.1 625.7 L105.7 623.3Z"/><path d="M10.7 510.5 L13.2 508.0 L15.7 512.1 L20.6 513.0 L24.7 518.7 L28.8 521.2 L27.2 523.7 L21.4 522.9 L17.3 517.1 L12.4 515.4Z"/><path d="M23.0 565.0 L27.0 562.5 L33.0 563.0 L36.0 567.0 L33.0 572.0 L27.0 572.5 L24.0 569.0Z"/></clipPath>
<g clip-path="url(#akclip)">
<rect x="0" y="410" width="310" height="260" fill="#A0C0DF"/>
<path d="M210 471 C206.7 470.5 196.8 469.0 190.3 467.9 C183.8 466.8 177.1 466.0 170.8 464.6 C164.5 463.2 158.5 461.1 152.7 459.7 C146.9 458.3 141.1 456.8 136.2 456.4 C131.3 456.0 127.7 455.8 123.1 457.2 C118.5 458.6 113.0 461.6 108.7 465.0 C104.4 468.4 100.4 473.2 97.2 477.5 C94.0 481.8 91.6 486.3 89.8 490.7 C88.0 495.1 86.9 499.2 86.5 503.9 C86.1 508.6 86.8 513.9 87.3 518.7 C87.8 523.6 88.8 528.6 89.8 533.0 C90.8 537.4 91.3 539.4 93.3 545.0 C95.2 550.6 99.0 559.3 101.5 566.4 C104.0 573.5 106.3 582.0 108.1 587.8 C109.9 593.6 111.4 598.5 112.2 601.0 C113.0 603.5 112.9 602.7 113.0 603.0 L135 603 L230 603 Z" fill="#BFCBE4" stroke="rgba(90,90,90,0.55)" stroke-width="0.7"/>
<path d="M210 494 C207.3 494.2 199.1 494.7 193.9 495.1 C188.8 495.6 184.3 495.8 179.1 496.7 C173.9 497.6 167.8 498.7 162.6 500.8 C157.4 502.9 152.2 505.8 147.8 509.1 C143.4 512.4 139.4 516.2 136.2 520.6 C133.0 525.0 130.5 530.5 128.8 535.4 C127.1 540.3 126.4 545.6 126.0 550.0 C125.6 554.4 125.9 557.4 126.2 561.5 C126.5 565.6 127.4 568.3 127.9 574.7 C128.4 581.1 128.8 595.8 129.0 600.0 L230 600 Z" fill="#B3B3B3" stroke="rgba(90,90,90,0.55)" stroke-width="0.7"/>
<path d="M210 514 C207.7 514.4 200.5 515.5 196.4 516.5 C192.3 517.5 189.1 518.1 185.7 519.8 C182.3 521.4 178.8 523.5 175.8 526.4 C172.8 529.3 169.7 532.7 167.5 537.1 C165.3 541.5 163.6 548.9 162.6 553.0 C161.6 557.1 161.7 558.4 161.7 561.5 C161.7 564.6 162.3 565.0 162.5 571.4 C162.7 577.8 162.9 595.2 163.0 600.0 L230 600 Z" fill="#E7B168" stroke="rgba(90,90,90,0.55)" stroke-width="0.7"/>
</g>
<path d="M190.3 450.6 L188.0 449.9 L186.0 448.7 L184.0 447.3 L181.9 446.3 L179.5 446.0 L177.4 444.8 L174.8 445.3 L172.5 446.5 L170.3 446.5 L168.0 446.5 L165.9 445.7 L163.9 445.3 L161.9 445.0 L159.8 444.7 L157.9 443.9 L156.0 443.2 L153.9 442.4 L151.8 441.8 L150.0 440.4 L147.8 439.9 L145.3 440.1 L142.9 439.7 L140.4 440.0 L137.9 439.9 L136.2 438.4 L135.1 436.4 L133.1 436.1 L131.2 435.5 L129.2 435.4 L127.2 434.9 L125.2 434.7 L123.3 432.9 L121.9 430.6 L119.8 429.5 L117.8 428.2 L116.1 426.5 L114.1 428.2 L112.0 429.8 L109.7 430.3 L107.6 431.5 L105.4 432.2 L103.1 432.7 L101.1 434.2 L98.8 434.7 L96.8 435.4 L94.7 435.4 L92.6 435.7 L90.6 436.4 L88.0 437.8 L85.7 439.7 L84.6 442.1 L82.9 444.0 L81.5 446.2 L79.6 448.5 L77.4 450.4 L75.1 450.7 L73.0 451.4 L70.8 452.0 L68.4 451.5 L65.9 451.2 L63.4 451.2 L61.9 452.9 L61.2 455.1 L60.1 457.0 L61.4 459.4 L63.4 461.1 L64.9 463.2 L65.8 465.7 L67.5 467.7 L68.7 469.6 L68.9 471.9 L69.6 474.0 L70.8 475.9 L73.3 477.6 L75.8 479.2 L78.7 479.9 L81.5 480.8 L81.5 483.0 L81.8 485.2 L82.4 487.4 L81.4 489.4 L80.7 491.5 L77.4 493.2 L74.9 493.0 L72.5 492.4 L70.0 490.7 L67.5 489.1 L67.5 486.5 L68.4 484.1 L65.9 483.7 L63.4 483.3 L61.2 484.1 L58.9 484.4 L56.8 485.6 L54.4 485.8 L52.0 486.7 L49.6 487.8 L47.0 488.3 L45.1 489.2 L43.0 489.5 L41.2 490.7 L42.4 492.5 L43.8 494.1 L45.3 495.7 L46.8 497.2 L48.3 498.7 L49.4 500.6 L49.3 502.9 L48.3 505.0 L47.8 507.2 L50.0 508.9 L52.7 509.7 L54.7 510.5 L56.9 510.6 L58.8 512.0 L61.0 512.1 L63.2 512.1 L65.4 512.3 L67.5 513.0 L69.7 512.4 L71.9 511.8 L74.1 511.3 L76.5 510.5 L79.1 510.5 L79.1 513.0 L79.9 515.4 L79.3 517.7 L78.3 519.8 L77.4 522.0 L76.1 523.7 L74.4 525.1 L72.5 526.1 L70.2 526.2 L68.0 526.8 L65.9 527.8 L63.7 527.9 L61.6 528.8 L59.3 528.6 L57.8 530.2 L56.1 531.6 L54.5 533.0 L52.5 534.0 L50.7 535.0 L49.3 536.5 L47.9 538.1 L46.0 539.0 L44.5 540.8 L42.7 542.4 L41.0 544.0 L40.1 545.9 L39.2 547.7 L38.7 549.8 L37.5 551.5 L37.8 554.0 L39.1 556.1 L39.4 558.6 L40.0 561.0 L40.2 563.1 L41.2 565.1 L41.7 567.2 L41.2 569.4 L41.9 571.5 L42.5 573.5 L44.5 574.1 L46.2 575.4 L48.3 575.8 L50.0 577.0 L52.4 577.8 L55.1 577.5 L57.5 578.5 L57.7 581.0 L57.4 583.5 L57.0 586.0 L56.5 588.5 L56.0 591.0 L56.0 593.5 L58.0 593.4 L60.0 594.0 L62.0 593.8 L64.0 594.0 L66.1 594.5 L68.2 595.2 L70.4 595.2 L72.5 596.0 L74.3 597.4 L76.3 598.4 L78.3 599.5 L80.0 601.0 L82.0 600.5 L84.0 599.7 L86.0 599.0 L88.3 597.1 L91.0 596.0 L89.8 597.8 L89.2 599.9 L88.8 602.0 L88.0 604.0 L86.7 606.2 L85.8 608.6 L85.0 611.0 L83.8 612.8 L82.3 614.3 L80.5 615.5 L79.0 617.0 L77.4 618.3 L75.6 619.4 L74.3 621.0 L72.5 622.0 L70.5 623.6 L68.2 624.8 L66.0 626.0 L63.7 626.9 L62.3 629.1 L60.0 630.0 L59.2 631.9 L59.2 634.0 L59.0 636.0 L56.4 634.6 L54.0 633.0 L52.0 633.6 L50.0 633.5 L48.0 635.3 L46.0 637.0 L42.5 638.5 L39.8 638.8 L37.0 639.0 L34.9 640.4 L32.5 641.0 L29.8 641.3 L27.0 641.5 L24.6 642.1 L22.5 643.5 L19.6 643.8 L17.0 645.0 L14.7 645.8 L12.5 647.0 L10.3 648.1 L8.0 649.0 L5.5 652.0 L5.5 654.0 L7.8 653.7 L9.7 652.2 L12.0 652.0 L14.1 651.7 L16.0 651.2 L18.0 650.5 L20.2 649.5 L22.6 649.0 L25.0 648.5 L27.0 648.2 L29.0 648.5 L31.0 648.0 L33.2 647.4 L35.3 646.4 L37.5 646.0 L39.8 645.6 L41.8 644.7 L44.0 644.0 L46.1 643.3 L47.9 641.9 L50.0 641.0 L52.0 640.7 L54.0 640.6 L56.0 640.3 L58.0 640.5 L60.4 640.1 L62.7 639.3 L65.0 638.5 L66.8 637.5 L68.6 636.8 L70.5 636.0 L72.4 635.3 L74.0 634.0 L75.5 632.6 L77.2 631.5 L79.3 631.0 L81.0 630.0 L82.5 628.5 L84.5 628.0 L86.3 627.1 L88.3 626.8 L90.0 625.7 L91.9 624.3 L93.0 622.1 L94.9 620.8 L96.7 619.3 L98.4 617.7 L99.7 615.7 L101.5 614.2 L103.4 613.1 L105.1 611.9 L106.5 610.2 L108.1 608.9 L109.8 607.6 L110.7 605.4 L111.7 603.3 L112.2 601.0 L113.2 598.9 L114.3 596.8 L114.7 594.4 L116.6 592.8 L118.5 591.0 L120.5 589.5 L121.6 587.6 L123.4 586.3 L124.6 584.5 L126.0 582.9 L127.4 581.3 L128.7 579.6 L130.5 578.0 L131.7 575.9 L132.8 573.8 L135.1 572.6 L137.3 571.2 L139.4 569.7 L141.5 568.1 L143.8 567.0 L146.0 565.6 L145.4 567.7 L144.4 569.7 L141.9 571.4 L139.4 573.0 L137.2 574.3 L135.6 576.2 L133.7 577.9 L132.4 579.8 L131.5 582.0 L130.6 584.2 L129.5 586.2 L128.9 588.2 L129.0 590.3 L129.0 592.4 L128.7 594.4 L130.0 596.0 L131.2 597.7 L133.5 596.5 L135.8 595.3 L137.8 593.6 L139.8 591.9 L142.0 590.5 L144.4 589.5 L146.7 588.5 L148.7 587.1 L151.0 586.2 L153.6 586.7 L155.9 587.8 L158.6 586.5 L160.8 584.5 L161.7 582.5 L162.5 580.4 L160.3 580.5 L158.2 579.4 L155.9 579.6 L154.2 578.0 L152.6 576.3 L153.6 573.8 L154.9 571.7 L156.7 569.7 L158.8 570.5 L160.4 572.2 L162.5 573.0 L165.0 571.9 L167.4 570.5 L168.4 572.5 L169.8 574.3 L171.0 576.2 L172.4 577.9 L174.9 579.0 L177.3 580.4 L179.6 581.7 L181.7 583.1 L183.9 584.5 L186.0 584.5 L188.0 584.0 L190.1 584.1 L192.1 583.7 L194.2 583.4 L196.2 583.7 L198.3 583.7 L200.4 583.7 L202.6 581.7 L205.3 580.4 L203.7 580.4 L203.1 578.4 L203.4 576.2 L202.6 574.2 L202.7 572.1 L202.9 569.9 L202.4 567.9 L202.2 565.8 L201.9 563.7 L201.3 561.7 L201.0 559.6 L200.8 557.5 L200.5 555.4 L200.3 553.4 L200.3 551.2 L200.1 549.2 L200.1 547.1 L199.6 545.0Z" fill="none" stroke="#4e4e4e" stroke-width="1.15" stroke-linejoin="round"/>
<path d="M106.5 620.8 L107.8 618.8 L109.7 617.4 L111.1 615.5 L113.1 614.2 L114.6 612.5 L116.5 611.4 L118.1 609.8 L119.6 608.1 L121.4 606.8 L122.9 605.1 L124.6 606.5 L126.0 608.2 L127.9 609.3 L127.0 611.3 L126.6 613.5 L125.4 615.4 L124.6 617.5 L123.8 620.0 L122.9 622.4 L120.8 623.6 L118.9 625.1 L116.6 626.0 L114.7 627.4 L112.8 629.1 L110.7 630.4 L108.7 631.9 L106.5 633.1 L104.0 632.3 L105.2 630.0 L106.5 627.7 L108.1 625.7 L105.7 623.3Z" fill="none" stroke="#4e4e4e" stroke-width="1.15" stroke-linejoin="round"/>
<path d="M10.7 510.5 L13.2 508.0 L14.2 510.2 L15.7 512.1 L18.1 512.7 L20.6 513.0 L22.0 514.8 L23.6 516.6 L24.7 518.7 L26.7 520.1 L28.8 521.2 L27.2 523.7 L24.4 522.8 L21.4 522.9 L20.0 521.0 L19.0 518.8 L17.3 517.1 L14.7 516.7 L12.4 515.4 L11.6 512.9Z" fill="none" stroke="#4e4e4e" stroke-width="1.15" stroke-linejoin="round"/>
<path d="M23.0 565.0 L24.8 563.4 L27.0 562.5 L29.0 563.0 L31.0 562.9 L33.0 563.0 L34.7 564.8 L36.0 567.0 L34.3 569.4 L33.0 572.0 L31.0 572.1 L29.0 572.0 L27.0 572.5 L25.6 570.7 L24.0 569.0 L23.7 566.9Z" fill="none" stroke="#4e4e4e" stroke-width="1.15" stroke-linejoin="round"/>
<path d="M106.5 620.8 L107.7 619.3 L109.3 618.4 L110.7 617.1 L111.7 615.4 L113.1 614.2 L114.0 612.7 L115.0 611.4 L116.5 610.5 L117.5 609.1 L118.8 608.1 L120.5 607.4 L121.7 606.2 L122.9 605.1 L123.8 606.6 L125.8 606.7 L127.1 607.7 L127.9 609.3 L127.8 611.2 L126.7 612.6 L126.5 614.4 L124.9 615.7 L124.6 617.5 L123.9 619.1 L122.7 620.5 L122.9 622.4 L121.7 623.5 L119.8 623.4 L118.9 625.1 L117.2 625.4 L115.8 626.1 L114.7 627.4 L113.5 628.6 L112.1 629.5 L111.1 630.9 L109.1 631.0 L107.9 632.1 L106.5 633.1 L104.0 632.3 L105.2 630.8 L105.4 628.6 L106.4 626.9 L108.1 625.7 L107.2 624.2 L105.7 623.3Z" fill="none" stroke="#555" stroke-width="1.9" stroke-linejoin="round"/>
<path d="M129.0 586.2 L129.9 587.9 L129.7 589.5 L129.5 591.2 L129.1 592.8 L128.7 594.4 L129.6 596.3 L130.9 597.3 L133.3 597.3 L134.4 595.5 L136.0 594.4 L137.5 593.1 L139.5 592.7 L141.3 591.8 L142.4 590.0 L144.6 589.9 L146.1 588.7 L147.5 587.5 L149.2 586.7 L151.3 585.4 L152.5 587.2 L154.0 588.2 L156.1 588.2 L157.2 586.2 L159.0 585.3 L161.3 584.7 L160.9 582.1 L162.5 580.4" fill="none" stroke="#555" stroke-width="1.8" stroke-linejoin="round" stroke-linecap="round"/>
<path d="M162.4 581.0 L160.7 581.2 L159.1 580.5 L157.6 579.0 L155.4 580.1 L154.7 577.5 L152.3 576.1 L153.5 574.6 L155.1 573.3 L154.8 570.8 L156.3 570.4 L158.0 570.8 L159.9 570.8 L161.4 571.5 L162.5 573.0 L164.5 572.8 L166.2 572.2 L168.2 569.9 L168.7 571.8 L168.5 574.0 L170.9 574.6 L170.9 576.8 L172.3 578.1 L173.8 579.1 L175.5 579.9 L177.3 580.4" fill="none" stroke="#555" stroke-width="2.2" stroke-linejoin="round" stroke-linecap="round"/>
<path d="M157.6 576.4 L159.8 576.8 L160.8 578.2 L162.6 576.7 L165.0 576.5" fill="none" stroke="#555" stroke-width="2.4" stroke-linejoin="round" stroke-linecap="round"/>
<path d="M177.4 580.2 L179.0 581.4 L180.7 582.3 L182.2 583.5 L183.9 584.5 L185.6 584.5 L187.2 584.5 L188.8 584.1 L190.5 584.1 L192.1 584.0 L193.8 583.8 L195.4 584.3 L197.1 583.9 L198.7 584.2 L200.4 583.7" fill="none" stroke="#555" stroke-width="1.3" stroke-linejoin="round" stroke-linecap="round"/>
<path d="M112.9 601.3 L112.1 602.8 L111.7 604.6 L110.3 605.9 L110.1 608.0 L108.5 608.8 L106.6 609.2 L105.6 610.9 L104.8 612.7 L103.1 613.3 L101.4 614.1 L100.7 616.0 L98.4 616.4 L97.6 618.3 L96.4 619.7 L95.0 620.9 L94.0 622.3 L92.6 623.4 L91.0 624.2 L89.8 625.3 L88.3 626.0 L86.7 626.3 L85.6 627.8 L83.9 628.1 L82.2 628.5 L80.9 629.7 L80.1 631.5 L77.8 631.1 L76.5 632.2 L75.9 634.3 L74.1 634.7 L72.8 635.9 L70.7 635.3 L69.5 636.8 L67.9 637.4 L66.5 638.3 L64.8 638.3 L63.1 638.9 L61.6 640.2 L59.7 640.4 L58.0 640.2 L56.4 640.7 L54.8 640.8 L53.2 640.5 L51.6 641.6 L49.8 641.2 L48.5 642.3 L47.2 643.4 L45.5 643.8 L43.9 644.3 L42.1 644.2 L40.8 645.6 L39.2 646.4 L37.3 645.7 L35.7 646.4 L34.0 646.8 L32.8 648.7 L31.0 648.0 L29.0 648.6 L27.1 649.4 L25.1 649.4 L23.0 648.7 L21.6 650.2 L19.7 650.4 L17.8 650.4 L16.1 652.1 L14.0 651.8 L12.2 653.2 L9.9 652.9 L7.9 653.4 L6.0 654.5" fill="none" stroke="#555" stroke-width="1.7" stroke-linejoin="round" stroke-linecap="round"/>
<path d="M59.8 642.7 L58.6 644.4 L56.4 644.6 L54.8 645.2 L53.2 646.0 L51.6 647.4 L49.6 646.4 L47.8 647.0 L46.5 648.9 L44.9 649.9 L43.0 650.3 L41.0 650.5" fill="none" stroke="#555" stroke-width="1.6" stroke-linejoin="round" stroke-linecap="round"/>
<path d="M72.5 622.0 L70.7 622.7 L69.2 624.0 L67.6 624.9 L66.2 626.4 L64.6 627.1 L62.8 627.6 L61.6 629.1 L59.5 629.9 L59.3 631.9 L58.9 633.9 L59.0 636.0 L57.3 635.1 L55.5 634.4 L54.0 633.1 L52.0 633.2 L50.2 633.7 L48.6 634.6 L47.4 636.0 L46.0 636.9 L44.3 637.8 L42.5 638.9 L40.7 638.8 L38.8 638.6 L37.2 639.4 L35.5 639.8 L34.0 640.3 L32.5 641.5 L30.7 641.3 L28.8 641.5 L26.9 641.3 L25.5 642.1 L23.8 642.4 L22.4 643.2 L20.6 643.7 L18.8 644.2 L17.0 645.0 L15.7 646.0 L14.0 646.4 L12.6 647.3 L11.2 648.0 L9.4 648.1 L8.0 649.0" fill="none" stroke="#555" stroke-width="1.2" stroke-linejoin="round" stroke-linecap="round"/>
<path d="M132.9 572.9 L134.6 572.3 L135.8 571.2 L136.7 569.6 L139.2 569.1 L141.1 567.8 L142.6 566.7 L144.5 566.3 L146.0 565.3" fill="none" stroke="#555" stroke-width="1.4" stroke-linejoin="round" stroke-linecap="round"/>
<path d="M116.2 602.8 L118.1 601.6 L119.8 600.2 L121.5 598.9 L123.5 598.0" fill="none" stroke="#555" stroke-width="1.5" stroke-linejoin="round" stroke-linecap="round"/>
<path d="M41.0 544.0 L40.6 545.6 L39.6 547.0 L38.6 548.4 L37.8 549.8 L37.1 551.6 L37.8 553.1 L37.8 554.8 L38.8 556.2 L39.4 557.8 L39.6 559.4 L39.6 561.1 L39.9 562.9 L41.1 564.5 L40.5 566.5 L41.2 568.2 L42.0 569.9 L42.7 571.6 L42.5 573.5" fill="none" stroke="#555" stroke-width="1.2" stroke-linejoin="round" stroke-linecap="round"/>
<path d="M75.7 479.4 L77.8 479.5 L79.5 480.8 L81.0 480.9 L81.7 482.5 L81.8 484.1 L81.9 485.8 L82.4 487.4 L81.1 489.3 L80.7 491.5" fill="none" stroke="#555" stroke-width="1.4" stroke-linejoin="round" stroke-linecap="round"/>
<path d="M95 639.5 L96.3 641 M87.5 633 L88.3 634.2 M44.5 486 L45 486.6 M39 500.5 L39.4 501.2 M36 488 L36.5 488.8 M166 600.5 L166.8 601.5 M100.5 651.5 L101.5 652.5" stroke="#555" stroke-width="1.3" stroke-linecap="round" fill="none"/>
<path d="M203.7 577.4 L217.2 578.0 L218.5 582.3 L230.0 581.5 L242.0 581.0 L256.8 593.4 L264.2 602.1 L275.3 613.2 L279.1 618.2 L288.9 620.6 L293.9 623.1 L296.4 633.0 L293.9 641.6 L288.9 640.4 L284.0 644.1 L279.1 646.6 L274.1 644.1 L269.2 639.2 L265.5 631.7 L259.3 629.3 L254.3 624.3 L246.9 618.2 L242.0 610.7 L237.0 603.3 L229.6 599.6 L223.4 594.7 L217.2 591.0 L212.3 588.5 L207.4 586.0 L203.7 583.7Z" fill="#555" stroke="#555" stroke-width="0.9" stroke-linejoin="round"/>
<path d="M203.7 577.4 L217.2 578.0 L218.5 582.3 L232.1 581.7 L238.3 589.7 L242.0 597.1 L238.3 600.8 L235.8 602.1 L230.8 599.0 L223.4 594.0 L217.2 590.3 L212.3 587.9 L207.4 585.8 L202.4 584.8 L203.2 581.1Z" fill="#E7B168"/>
<path d="M203.3 584.4 L205.3 585.4 L207.6 585.6 L208.8 587.2 L210.8 587.2 L212.3 588.3 L213.7 589.6 L215.7 589.8 L216.9 591.3 L218.6 591.9 L220.3 592.6 L221.8 593.6 L223.4 594.5 L225.0 595.2 L226.0 597.0 L228.0 597.3 L229.0 598.9 L230.6 599.8 L232.6 599.6 L233.8 600.7 L235.0 601.8 L236.4 602.7" fill="none" stroke="#555" stroke-width="1.3"/>
<path d="M212.8 581.4 L214.8 582.2 L214.4 584.1 L215.4 585.4 L216.1 587.4 L217.9 588.5" fill="none" stroke="#555" stroke-width="1.6"/>
<path d="M242.0 582.3 C243.2 582.6 246.9 589.7 249.4 591.6 C251.9 593.4 254.3 591.7 256.8 593.4 C259.3 595.2 261.1 598.8 264.2 602.1 C267.3 605.4 272.9 610.5 275.3 613.2 C277.8 615.9 276.8 616.9 279.1 618.2 C281.3 619.4 286.5 619.8 288.9 620.6 C291.4 621.4 292.7 621.0 293.9 623.1 C295.1 625.2 296.3 630.0 296.4 633.0 C296.5 636.0 295.1 640.0 294.5 641.0 C293.9 642.0 293.3 640.3 292.7 639.2 C292.0 638.0 291.6 635.9 290.8 634.2 C290.0 632.6 288.8 630.5 287.7 629.3 C286.6 628.0 285.2 627.1 284.0 626.8 C282.8 626.5 281.5 628.0 280.3 627.4 C279.1 626.8 277.6 624.4 276.6 623.1 C275.6 621.8 275.3 620.4 274.1 619.4 C272.9 618.4 270.3 618.2 269.2 616.9 C268.0 615.7 268.1 613.2 267.3 612.0 C266.5 610.7 265.1 610.5 264.2 609.5 C263.3 608.5 262.8 607.0 261.7 605.8 C260.7 604.6 259.1 603.3 258.0 602.1 C257.0 600.8 256.7 599.3 255.6 598.4 C254.4 597.4 252.5 597.2 251.2 596.5 C250.0 595.8 249.3 594.7 248.2 594.0 C247.0 593.4 245.5 593.5 244.4 592.8 C243.4 592.1 242.4 591.5 242.0 589.7 C241.6 588.0 240.7 582.0 242.0 582.3Z" fill="#E38B4B"/>
<ellipse cx="244.4" cy="602.1" rx="4.15" ry="1.64" fill="#E38B4B" transform="rotate(58 244.4 602.1)"/>
<ellipse cx="246.9" cy="607.0" rx="4.67" ry="1.64" fill="#E38B4B" transform="rotate(50 246.9 607.0)"/>
<ellipse cx="250.3" cy="612.6" rx="4.15" ry="1.41" fill="#E38B4B" transform="rotate(51 250.3 612.6)"/>
<ellipse cx="253.4" cy="617.8" rx="3.63" ry="1.41" fill="#E38B4B" transform="rotate(43 253.4 617.8)"/>
<ellipse cx="255.2" cy="623.4" rx="3.11" ry="1.17" fill="#E38B4B" transform="rotate(52 255.2 623.4)"/>
<ellipse cx="252.6" cy="605.0" rx="3.63" ry="1.41" fill="#E38B4B" transform="rotate(59 252.6 605.0)"/>
<ellipse cx="257.0" cy="609.6" rx="4.15" ry="1.41" fill="#E38B4B" transform="rotate(39 257.0 609.6)"/>
<ellipse cx="258.8" cy="614.5" rx="2.60" ry="1.17" fill="#E38B4B" transform="rotate(36 258.8 614.5)"/>
<ellipse cx="262.1" cy="619.1" rx="3.63" ry="1.41" fill="#E38B4B" transform="rotate(36 262.1 619.1)"/>
<ellipse cx="265.4" cy="624.3" rx="4.15" ry="1.64" fill="#E38B4B" transform="rotate(56 265.4 624.3)"/>
<ellipse cx="269.2" cy="629.4" rx="3.63" ry="1.41" fill="#E38B4B" transform="rotate(47 269.2 629.4)"/>
<ellipse cx="264.4" cy="629.2" rx="2.60" ry="1.17" fill="#E38B4B" transform="rotate(42 264.4 629.2)"/>
<ellipse cx="272.1" cy="632.2" rx="4.15" ry="1.64" fill="#E38B4B" transform="rotate(56 272.1 632.2)"/>
<ellipse cx="275.6" cy="636.5" rx="4.15" ry="1.64" fill="#E38B4B" transform="rotate(41 275.6 636.5)"/>
<ellipse cx="278.8" cy="640.6" rx="3.63" ry="1.41" fill="#E38B4B" transform="rotate(54 278.8 640.6)"/>
<ellipse cx="274.0" cy="640.7" rx="2.60" ry="1.17" fill="#E38B4B" transform="rotate(45 274.0 640.7)"/>
<ellipse cx="282.0" cy="635.8" rx="3.11" ry="1.17" fill="#E38B4B" transform="rotate(35 282.0 635.8)"/>
<ellipse cx="286.2" cy="634.6" rx="3.63" ry="1.41" fill="#E38B4B" transform="rotate(47 286.2 634.6)"/>
<ellipse cx="289.4" cy="637.8" rx="3.11" ry="1.41" fill="#E38B4B" transform="rotate(37 289.4 637.8)"/>
<ellipse cx="284.7" cy="640.7" rx="2.60" ry="1.17" fill="#E38B4B" transform="rotate(42 284.7 640.7)"/>
<ellipse cx="243.4" cy="607.5" rx="2.08" ry="0.94" fill="#E7B168" transform="rotate(59 243.4 607.5)"/>
<ellipse cx="242.2" cy="604.2" rx="2.08" ry="0.94" fill="#E7B168" transform="rotate(41 242.2 604.2)"/>
<ellipse cx="247.8" cy="601.6" rx="2.08" ry="0.94" fill="#E38B4B" transform="rotate(55 247.8 601.6)"/>
<path d="M253.1 605.8 L256.8 614.4 L258.7 623.1 L259.9 630.5 M260.5 614.4 L263.6 613.2 M280.3 634.2 L281.5 637.9" fill="none" stroke="#fff" stroke-width="0.8" stroke-linecap="round"/>
<path d="M236.8 603.4 L237.4 605.2 L239.1 606.2 L239.6 608.0 L240.3 609.7 L241.9 610.8 L242.6 612.5 L243.6 614.0 L244.3 615.6 L246.7 616.2 L247.3 617.6 L247.5 619.9 L249.1 620.6 L250.9 620.9 L251.5 622.6 L253.5 622.8 L254.5 624.1 L255.7 625.5 L257.2 626.4 L258.6 627.5 L259.3 629.3 L260.7 630.2 L262.5 630.2 L263.8 631.4 L264.6 632.2 L267.0 632.8 L267.3 634.5 L268.4 635.8 L268.1 637.8 L269.3 639.0 L270.5 640.3 L272.0 641.3 L272.5 643.3 L273.9 644.6 L275.8 644.8 L277.1 646.3 L278.8 646.1 L280.6 645.5 L282.8 645.8 L283.7 643.7 L284.8 642.6 L285.9 641.5 L287.9 641.6 L288.8 641.0 L290.8 639.9 L292.2 641.2 L293.9 641.6" fill="none" stroke="#555" stroke-width="1.5"/>
<circle cx="271.0" cy="646.0" r="0.7" fill="#555"/>
<path d="M4.8 746 V411.4 H175 L306.6 576.6 H608 V746 Z M4.8 665.2 H306.6 M306.6 576.6 V746" fill="none" stroke="#111" stroke-width="1.4" stroke-linejoin="miter"/>
<path d="M10.2 673.9 L16.5 673.5 L21.4 676.8 L22.2 679.8 L16.5 679.3 L13.2 677.7 Z" fill="#DC562F" stroke="#5c5c5c" stroke-width="0.9"/>
<path d="M18.1 688 L24.7 687.5 L22.2 691.7 Z" fill="#E38B4B" stroke="#5c5c5c" stroke-width="0.9"/>
<path d="M27 683.5 L30.5 686 M49.4 699 L52 700.7 M76.6 713.9 L82.4 716.4 M77.4 718.8 L79.9 720.5 M81.5 723.8 L85.7 727.1 L91.4 732 M109 738.5 L113.5 736 M114 732.5 L118 733 M115.5 728 L117 728.5" fill="none" stroke="#5c5c5c" stroke-width="1.6" stroke-linecap="round"/>
<path d="M64.3 713.1 L70.8 710.6 L72.5 713.9 L65.9 715.5 Z" fill="#5c5c5c" stroke="#5c5c5c" stroke-width="0.9"/>
<circle cx="96.4" cy="720.2" r="1.9" fill="#E38B4B" stroke="#5c5c5c" stroke-width="0.9"/>
<path d="M124.4 727.9 L130.1 727.9 L140 729.5 L138.4 733.7 L128.5 733.7 L125.2 731.2 Z" fill="#5c5c5c" stroke="#5c5c5c" stroke-width="0.9"/>
<path d="M140 734.5 L143.3 729.5 L153.2 727.9 L160 731.2 L165 732.5 L172 731 L177 728 L182 730.5 L194.5 733.7 L182 734 L166 733.5 L153.2 734.8 L143.3 737 Z" fill="#5c5c5c" stroke="#5c5c5c" stroke-width="0.9"/>
<path d="M126 729 L129 731 M134 731.5 L137 731.5 M144 733.5 L146 731 M152.5 730 L154 732 M186 733 L189 733.3" stroke="#E38B4B" stroke-width="1.5" stroke-linecap="round"/>
<circle cx="179.3" cy="727.4" r="2" fill="#E7B168" stroke="#5c5c5c" stroke-width="0.8"/>
<ellipse cx="201.9" cy="729.5" rx="2.5" ry="1.3" fill="#E7B168" stroke="#5c5c5c" stroke-width="0.8"/>
<ellipse cx="218.4" cy="727.1" rx="1.6" ry="1" fill="#5c5c5c" stroke="#5c5c5c" stroke-width="0.8" transform="rotate(-30 218.4 727.1)"/>
<ellipse cx="225.5" cy="724.9" rx="2.2" ry="1.2" fill="#5c5c5c" stroke="#5c5c5c" stroke-width="0.8" transform="rotate(-25 225.5 724.9)"/>
<path d="M232.5 722.5 L236 720.5 M239.3 717.5 L239 723" stroke="#5c5c5c" stroke-width="1.6" stroke-linecap="round"/>
<path d="M245.5 723.2 L247.3 722.0 L248.8 720.5 L250.5 719.1 L252.1 717.7" fill="none" stroke="#5c5c5c" stroke-width="1.2" stroke-linecap="round"/>
<path d="M264.0 714.3 L265.4 712.8 L267.0 712.2 L268.6 711.4 L270.1 710.3 L271.6 709.4 L273.4 709.6 L274.9 708.8 L276.6 708.2 L277.5 706.5 L279.5 706.9 L280.0 704.6 L282.0 704.7 L282.4 702.8 L283.9 702.1 L285.4 701.5" fill="none" stroke="#5c5c5c" stroke-width="2.4" stroke-linecap="round" stroke-linejoin="round"/>
<ellipse cx="253.5" cy="717.0" rx="4.94" ry="2.14" fill="#A0C0DF" stroke="#5c5c5c" stroke-width="0.9" transform="rotate(-38 253.5 717.0)"/><ellipse cx="260.0" cy="710.8" rx="4.28" ry="2.80" fill="#A0C0DF" stroke="#5c5c5c" stroke-width="0.9" transform="rotate(-25 260.0 710.8)"/><ellipse cx="267.8" cy="711.4" rx="2.97" ry="1.32" fill="#A0C0DF" stroke="#5c5c5c" stroke-width="0.9" transform="rotate(-20 267.8 711.4)"/><ellipse cx="276.9" cy="701.5" rx="3.62" ry="2.80" fill="#A0C0DF" stroke="#5c5c5c" stroke-width="0.9" transform="rotate(-20 276.9 701.5)"/><ellipse cx="281.8" cy="705.2" rx="2.31" ry="1.15" fill="#A0C0DF" stroke="#5c5c5c" stroke-width="0.9" transform="rotate(-35 281.8 705.2)"/>
<path d="M272.4 708.0 L274.4 707.7 L275.0 705.8 L277.2 705.2" fill="none" stroke="#5c5c5c" stroke-width="1.2"/>
<circle cx="286.9" cy="695.3" r="2" fill="#A0C0DF" stroke="#5c5c5c" stroke-width="0.8"/>
<path d="M292 692.5 L294 694 M295 696.5 L303.2 694.4" stroke="#5c5c5c" stroke-width="1.4" stroke-linecap="round"/>
<path d="M306 679.5 C303 682 301 686 302.5 688.5 C304 690 305.5 689.5 306 689.5 Z" fill="#A0C0DF" stroke="#5c5c5c" stroke-width="0.8"/>
<path d="M22.2 680.5 H44.5 M243.4 681.4 L274.4 702.4 M206 709.8 L235.7 721.6" stroke="#111" stroke-width="1" fill="none"/>
<text class="slab" x="52.7" y="684.3" textLength="36.8" lengthAdjust="spacingAndGlyphs">Above</text>
<text x="114.5" y="678.6" font-size="9.7" font-weight="bold" fill="#222" textLength="74.5" lengthAdjust="spacingAndGlyphs">Aleutian Islands</text>
<text class="slab" x="200.7" y="685.7" textLength="35.5" lengthAdjust="spacingAndGlyphs">Below</text>
<text class="slab" x="198.6" y="706.6" text-anchor="end">Near</text>
<text class="slab" x="198.6" y="720.9" text-anchor="end">Normal</text>
<clipPath id="kauai"><path d="M335.8 595.5 C335.7 594.5 335.9 593.1 336.5 591.8 C337.1 590.5 338.3 588.7 339.6 587.5 C340.9 586.3 342.4 585.1 344.5 584.4 C346.6 583.7 349.7 583.1 351.9 583.1 C354.1 583.1 356.1 583.5 357.5 584.4 C358.9 585.3 359.7 586.9 360.0 588.7 C360.3 590.6 359.9 593.5 359.3 595.5 C358.7 597.5 357.4 599.3 356.2 600.4 C355.0 601.5 353.6 602.1 351.9 602.3 C350.1 602.5 347.5 602.3 345.7 601.7 C343.9 601.1 342.2 599.2 340.8 598.6 C339.4 598.0 337.9 598.5 337.1 598.0 C336.3 597.5 335.9 596.5 335.8 595.5Z"/></clipPath>
<g clip-path="url(#kauai)"><rect x="330" y="580" width="35" height="25" fill="#A0C0DF"/><path d="M353.4 582.5 L344.3 599.8 L350 606 L365 606 L365 580 Z" fill="#BFCBE4" stroke="rgba(90,90,90,0.55)" stroke-width="0.7"/></g>
<path d="M335.8 595.5 C335.7 594.5 335.9 593.1 336.5 591.8 C337.1 590.5 338.3 588.7 339.6 587.5 C340.9 586.3 342.4 585.1 344.5 584.4 C346.6 583.7 349.7 583.1 351.9 583.1 C354.1 583.1 356.1 583.5 357.5 584.4 C358.9 585.3 359.7 586.9 360.0 588.7 C360.3 590.6 359.9 593.5 359.3 595.5 C358.7 597.5 357.4 599.3 356.2 600.4 C355.0 601.5 353.6 602.1 351.9 602.3 C350.1 602.5 347.5 602.3 345.7 601.7 C343.9 601.1 342.2 599.2 340.8 598.6 C339.4 598.0 337.9 598.5 337.1 598.0 C336.3 597.5 335.9 596.5 335.8 595.5Z" fill="none" stroke="#4a4a4a" stroke-width="1.2"/>
<path d="M313.3 609.1 C313.2 608.1 313.5 606.5 314.2 605.4 C314.9 604.3 316.4 603.6 317.3 602.3 C318.2 600.9 319.0 597.9 319.8 597.3 C320.6 596.7 321.8 597.5 322.2 598.6 C322.6 599.7 322.7 602.8 322.2 604.1 C321.7 605.4 320.1 605.5 319.2 606.6 C318.3 607.7 317.5 610.1 316.7 610.9 C315.9 611.7 315.2 611.9 314.6 611.6 C314.0 611.3 313.4 610.1 313.3 609.1Z" fill="#A0C0DF" stroke="#4a4a4a" stroke-width="1.2"/>
<path d="M415.7 610.4 L423.1 609.6 L435.4 611.2 L437.1 615.4 L442.0 613.7 L442.8 618.7 L447.8 621.1 L444.5 624.4 L437.9 622.8 L431.3 623.6 L424.7 624.4 L421.4 619.5 L417.3 614.5Z" fill="#B3B3B3" stroke="#4a4a4a" stroke-width="1.2" stroke-linejoin="round"/>
<path d="M465.9 629.4 C465.5 628.3 466.2 624.4 468.4 623.6 C470.6 622.8 476.8 624.5 479.1 624.4 C481.4 624.3 480.8 622.9 482.4 622.8 C484.0 622.7 486.8 623.5 489.0 623.6 C491.2 623.7 494.8 622.9 495.6 623.6 C496.4 624.3 495.3 626.6 493.9 627.7 C492.5 628.8 490.1 629.8 487.3 630.2 C484.6 630.6 480.1 630.2 477.4 630.2 C474.6 630.2 472.7 630.3 470.8 630.2 C468.9 630.1 466.3 630.5 465.9 629.4Z" fill="#E7B168" stroke="#4a4a4a" stroke-width="1.2"/>
<path d="M479.9 638.4 C480.4 637.7 483.8 637.3 485.7 637.3 C487.6 637.3 490.2 637.4 491.4 638.4 C492.6 639.4 493.5 642.0 493.1 643.4 C492.7 644.8 490.4 646.2 489.0 646.7 C487.6 647.2 485.9 647.5 484.8 646.7 C483.7 645.9 483.2 643.1 482.4 641.7 C481.6 640.3 479.3 639.1 479.9 638.4Z" fill="#E7B168" stroke="#4a4a4a" stroke-width="1.2"/>
<path d="M498.8 631.8 C499.6 630.8 501.6 629.4 503.0 629.4 C504.4 629.4 505.9 630.7 507.1 631.8 C508.3 632.9 509.0 635.9 510.4 636.0 C511.8 636.1 513.4 633.2 515.3 632.7 C517.2 632.2 519.7 632.2 521.9 632.7 C524.1 633.2 526.3 634.8 528.5 636.0 C530.7 637.2 534.3 638.6 535.1 640.1 C535.9 641.6 534.8 643.6 533.4 645.0 C532.0 646.4 529.1 647.2 526.9 648.3 C524.7 649.4 522.2 651.0 520.3 651.6 C518.4 652.2 516.7 652.6 515.3 651.6 C513.9 650.6 513.4 647.4 512.0 645.8 C510.6 644.1 508.9 642.8 507.1 641.7 C505.3 640.6 502.7 640.4 501.3 639.3 C499.9 638.2 498.9 636.4 498.5 635.1 C498.1 633.9 498.1 632.8 498.8 631.8Z" fill="#E7B168" stroke="#4a4a4a" stroke-width="1.2"/>
<path d="M533 638.5 L535.3 640.2 L534 644 L532 643 Z" fill="#E38B4B"/>
<path d="M500.5 655.7 C500.9 654.7 504.0 652.8 505.4 652.4 C506.8 652.0 508.3 652.6 508.7 653.3 C509.1 654.0 508.8 655.7 507.9 656.5 C506.9 657.3 504.2 658.3 503.0 658.2 C501.8 658.1 500.1 656.7 500.5 655.7Z" fill="#E7B168" stroke="#4a4a4a" stroke-width="1.2"/>
<path d="M544.8 666.0 C545.8 665.1 547.5 664.7 549.8 665.5 C552.0 666.3 554.5 669.5 558.5 671.0 C562.5 672.5 569.8 673.5 573.5 674.8 C577.2 676.0 578.7 676.6 581.0 678.5 C583.3 680.4 585.8 684.1 587.2 686.0 C588.7 687.9 588.3 688.5 589.8 689.8 C591.2 691.0 593.8 692.1 596.0 693.5 C598.2 694.9 603.0 695.5 603.0 698.0 C603.0 700.5 599.2 705.5 596.0 708.5 C592.8 711.5 587.2 713.5 583.5 716.0 C579.8 718.5 576.4 720.4 573.5 723.5 C570.6 726.6 568.1 732.7 566.0 734.8 C563.9 736.8 563.5 737.0 561.0 736.0 C558.5 735.0 553.3 732.2 551.0 728.5 C548.7 724.8 548.7 717.7 547.2 713.5 C545.8 709.3 543.8 706.6 542.2 703.5 C540.7 700.4 537.8 697.7 537.8 694.8 C537.8 691.8 540.7 688.7 542.2 686.0 C543.8 683.3 547.0 681.0 547.2 678.5 C547.5 676.0 543.9 673.1 543.5 671.0 C543.1 668.9 543.7 666.9 544.8 666.0Z" fill="#E38B4B" stroke="#4a4a4a" stroke-width="1.1"/>
<path d="M353.2 582.5 L398.9 591.4 M359.3 596.4 L416.2 605.6 M388.4 620.2 L416.2 610.3 L422 608.8 M535.9 600.5 L533.4 638.4 M549.4 628 V665.6" stroke="#111" stroke-width="1" fill="none"/>
<text class="slab" x="406.9" y="595.2" textLength="35.2" lengthAdjust="spacingAndGlyphs">Below</text>
<text class="slab" x="424.4" y="609.7" textLength="35.2" lengthAdjust="spacingAndGlyphs">Below</text>
<text class="slab" x="381" y="616.6" text-anchor="end">Near</text>
<text class="slab" x="381" y="631.2" text-anchor="end">Normal</text>
<text class="slab" x="543.8" y="605.1" textLength="36.8" lengthAdjust="spacingAndGlyphs">Above</text>
<text class="slab" x="557" y="633" textLength="36.8" lengthAdjust="spacingAndGlyphs">Above</text>
<text class="lab" x="170" y="383">Above</text>
<text class="lab" x="874.4" y="120.4">Above</text>
<text class="lab" x="726.8" y="320.7">Near</text><text class="lab" x="726.8" y="340.8">Normal</text>
<text class="lab" x="726.2" y="466.2">Below</text>
<text class="lab" x="782" y="511">Near</text><text class="lab" x="782" y="531.5">Normal</text>
<text class="lab" x="115" y="451.3">Below</text>
<text class="lab" x="154.4" y="524.7">Near</text><text class="lab" x="154.4" y="544.5">Normal</text>
<text class="lab" x="245.4" y="592">Above</text>
<text x="790.3" y="594" font-size="13.2" font-weight="bold" fill="#111" text-anchor="middle" textLength="74.6" lengthAdjust="spacingAndGlyphs">Probability</text>
<text x="790" y="610.2" font-size="13.2" font-weight="bold" fill="#111" text-anchor="middle" textLength="120" lengthAdjust="spacingAndGlyphs">(Percent Chance)</text>
<text x="683.7" y="630.2" font-size="11.5" font-weight="bold" fill="#111" textLength="80.5" lengthAdjust="spacingAndGlyphs">Above Normal</text>
<text x="816" y="630.2" font-size="11.5" font-weight="bold" fill="#111" textLength="79.8" lengthAdjust="spacingAndGlyphs">Below Normal</text>
<text x="790.3" y="648.6" font-size="11.5" font-weight="bold" fill="#111" text-anchor="middle" textLength="26.7" lengthAdjust="spacingAndGlyphs">Near</text>
<text x="790" y="663" font-size="11.5" font-weight="bold" fill="#111" text-anchor="middle" textLength="40" lengthAdjust="spacingAndGlyphs">Normal</text>
<rect x="778.1" y="669.4" width="23.8" height="12" fill="#a9a9a9"/>
<rect x="683" y="635.60" width="24.5" height="12" fill="#E7B168" stroke="rgba(255,255,255,0.4)" stroke-width="0.8"/>
<rect x="871.2" y="635.60" width="24.6" height="12" fill="#BFCBE4" stroke="rgba(255,255,255,0.4)" stroke-width="0.8"/>
<text class="leg" x="711" y="645.60" textLength="36.2" lengthAdjust="spacingAndGlyphs">33-40%</text>
<text class="leg" x="830.7" y="645.60" textLength="36.2" lengthAdjust="spacingAndGlyphs">33-40%</text>
<rect x="683" y="651.15" width="24.5" height="12" fill="#E38B4B" stroke="rgba(255,255,255,0.4)" stroke-width="0.8"/>
<rect x="871.2" y="651.15" width="24.6" height="12" fill="#A0C0DF" stroke="rgba(255,255,255,0.4)" stroke-width="0.8"/>
<text class="leg" x="711" y="661.15" textLength="36.2" lengthAdjust="spacingAndGlyphs">40-50%</text>
<text class="leg" x="830.7" y="661.15" textLength="36.2" lengthAdjust="spacingAndGlyphs">40-50%</text>
<rect x="683" y="666.70" width="24.5" height="12" fill="#DC562F" stroke="rgba(255,255,255,0.4)" stroke-width="0.8"/>
<rect x="871.2" y="666.70" width="24.6" height="12" fill="#77B5E2" stroke="rgba(255,255,255,0.4)" stroke-width="0.8"/>
<text class="leg" x="711" y="676.70" textLength="36.2" lengthAdjust="spacingAndGlyphs">50-60%</text>
<text class="leg" x="830.7" y="676.70" textLength="36.2" lengthAdjust="spacingAndGlyphs">50-60%</text>
<rect x="683" y="682.25" width="24.5" height="12" fill="#C93A1B" stroke="rgba(255,255,255,0.4)" stroke-width="0.8"/>
<rect x="871.2" y="682.25" width="24.6" height="12" fill="#389FDC" stroke="rgba(255,255,255,0.4)" stroke-width="0.8"/>
<text class="leg" x="711" y="692.25" textLength="36.2" lengthAdjust="spacingAndGlyphs">60-70%</text>
<text class="leg" x="830.7" y="692.25" textLength="36.2" lengthAdjust="spacingAndGlyphs">60-70%</text>
<rect x="683" y="697.80" width="24.5" height="12" fill="#B72E05" stroke="rgba(255,255,255,0.4)" stroke-width="0.8"/>
<rect x="871.2" y="697.80" width="24.6" height="12" fill="#005DA1" stroke="rgba(255,255,255,0.4)" stroke-width="0.8"/>
<text class="leg" x="711" y="707.80" textLength="36.2" lengthAdjust="spacingAndGlyphs">70-80%</text>
<text class="leg" x="830.7" y="707.80" textLength="36.2" lengthAdjust="spacingAndGlyphs">70-80%</text>
<rect x="683" y="713.35" width="24.5" height="12" fill="#8F2205" stroke="rgba(255,255,255,0.4)" stroke-width="0.8"/>
<rect x="871.2" y="713.35" width="24.6" height="12" fill="#2F1E80" stroke="rgba(255,255,255,0.4)" stroke-width="0.8"/>
<text class="leg" x="711" y="723.35" textLength="36.2" lengthAdjust="spacingAndGlyphs">80-90%</text>
<text class="leg" x="830.7" y="723.35" textLength="36.2" lengthAdjust="spacingAndGlyphs">80-90%</text>
<rect x="683" y="728.90" width="24.5" height="12" fill="#6A1D03" stroke="rgba(255,255,255,0.4)" stroke-width="0.8"/>
<rect x="871.2" y="728.90" width="24.6" height="12" fill="#221852" stroke="rgba(255,255,255,0.4)" stroke-width="0.8"/>
<text class="leg" x="711" y="738.90" textLength="42" lengthAdjust="spacingAndGlyphs">90-100%</text>
<text class="leg" x="824.9" y="738.90" textLength="42" lengthAdjust="spacingAndGlyphs">90-100%</text>
<text class="leg" x="624.2" y="646.3" textLength="36.5" lengthAdjust="spacingAndGlyphs">Leaning</text><text class="leg" x="628.1" y="658.8" textLength="28.9" lengthAdjust="spacingAndGlyphs">Above</text>
<text class="leg" x="629.2" y="702.2" textLength="26.9" lengthAdjust="spacingAndGlyphs">Likely</text><text class="leg" x="628.1" y="714.8" textLength="28.9" lengthAdjust="spacingAndGlyphs">Above</text>
<text class="leg" x="919.4" y="646.3" textLength="36.3" lengthAdjust="spacingAndGlyphs">Leaning</text><text class="leg" x="923.3" y="658.8" textLength="27.8" lengthAdjust="spacingAndGlyphs">Below</text>
<text class="leg" x="924.0" y="702.2" textLength="26.6" lengthAdjust="spacingAndGlyphs">Likely</text><text class="leg" x="923.3" y="714.8" textLength="27.8" lengthAdjust="spacingAndGlyphs">Below</text>
<path d="M682 635.6 C678 635.6 674.062 636.6 674.062 641.6 L674.062 643.5 C674.062 647.5 665.1 649.5 663.1 649.5 C665.1 649.5 674.062 651.5 674.062 655.5 L674.062 657.4 C674.062 662.4 678 663.4 682 663.4 M682 666.6 C678 666.6 674.062 667.6 674.062 672.6 L674.062 697.6500000000001 C674.062 701.6500000000001 665.1 703.6500000000001 663.1 703.6500000000001 C665.1 703.6500000000001 674.062 705.6500000000001 674.062 709.6500000000001 L674.062 734.7 C674.062 739.7 678 740.7 682 740.7 M898.4 635.6 C902.4 635.6 906.254 636.6 906.254 641.6 L906.254 643.5 C906.254 647.5 915.1 649.5 917.1 649.5 C915.1 649.5 906.254 651.5 906.254 655.5 L906.254 657.4 C906.254 662.4 902.4 663.4 898.4 663.4 M898.4 666.6 C902.4 666.6 906.254 667.6 906.254 672.6 L906.254 697.6500000000001 C906.254 701.6500000000001 915.1 703.6500000000001 917.1 703.6500000000001 C915.1 703.6500000000001 906.254 705.6500000000001 906.254 709.6500000000001 L906.254 734.7 C906.254 739.7 902.4 740.7 898.4 740.7" fill="none" stroke="#222" stroke-width="0.9"/>
</svg></body></html>
